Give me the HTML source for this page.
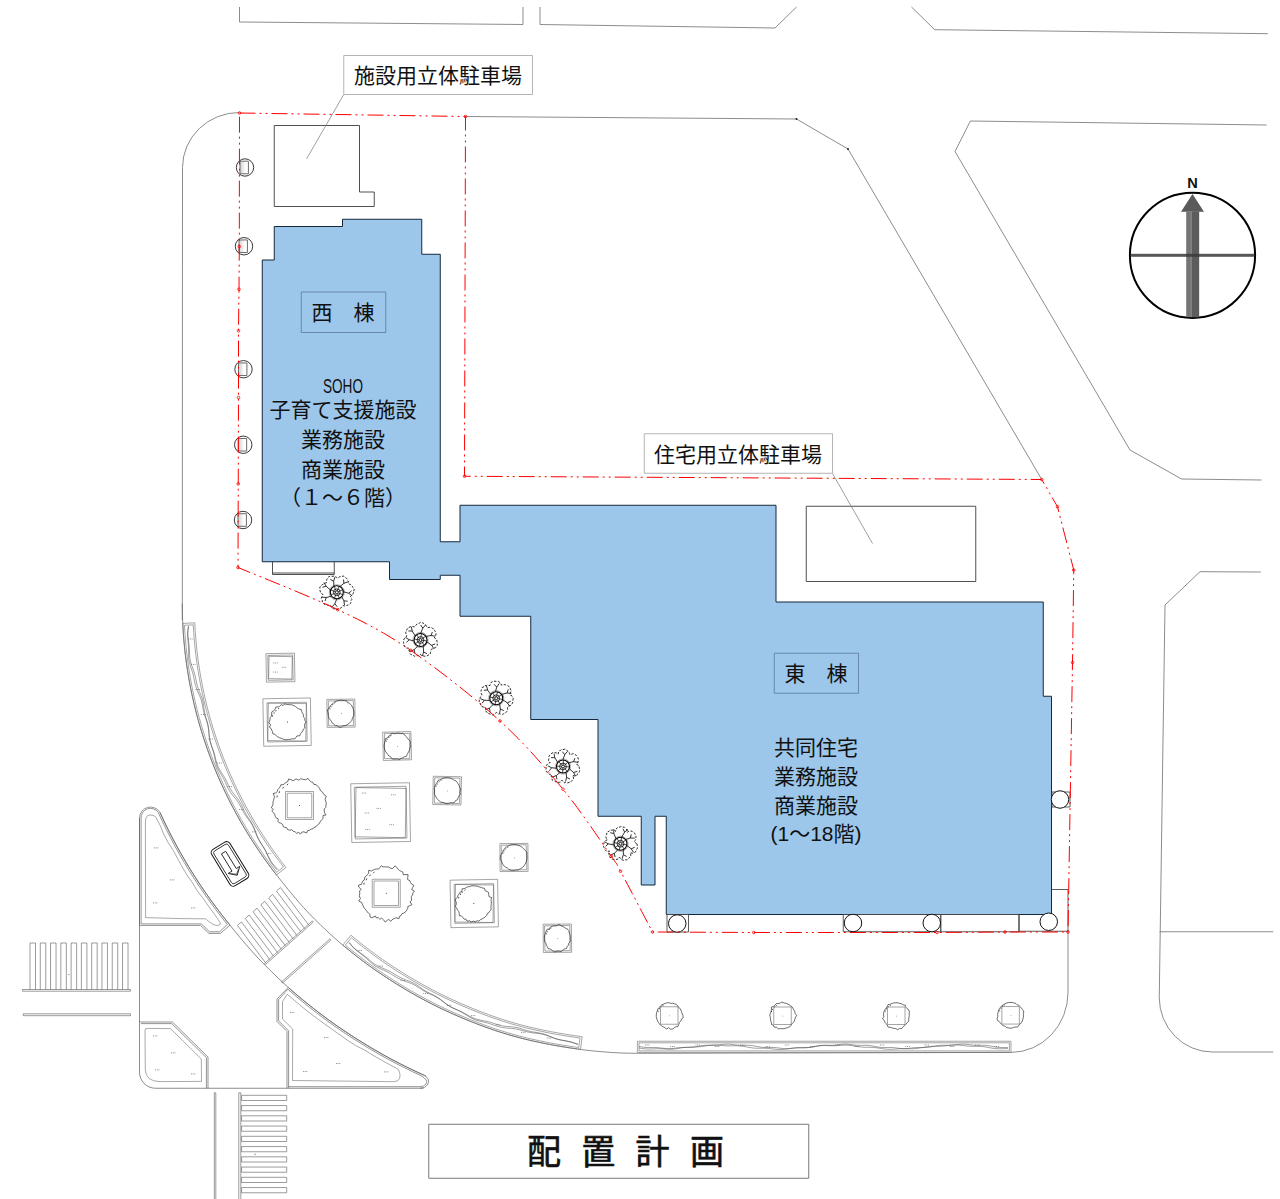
<!DOCTYPE html>
<html lang="ja"><head><meta charset="utf-8"><title>配置計画</title>
<style>
html,body{margin:0;padding:0;background:#fff}
svg{display:block}
path,circle{vector-effect:none}
.rd path,.rd2 path{fill:none;stroke:#6f6f6f;stroke-width:.8}
.bld{fill:#9cc6ea;stroke:#14293d;stroke-width:1;stroke-linejoin:miter}
.ln path{fill:none;stroke:#3c3c3c;stroke-width:.9}
.red{fill:none;stroke:#f00;stroke-width:1;stroke-dasharray:16 4 2 4 2 4}
.rdot circle{fill:none;stroke:#f00;stroke-width:.8}
.lnl{fill:url(#lg);stroke:#6a6a6a;stroke-width:1}
.sym,.sym path{fill:none;stroke:#4a4a4a;stroke-width:.9}
circle.sym{stroke:#222}
.col{fill:#fff;stroke:#111;stroke-width:1}
.lead path{fill:none;stroke:#777;stroke-width:.7}
.lbl{fill:#fff;stroke:#b4b4b4;stroke-width:1}
.sub{fill:none;stroke:#5d7a98;stroke-width:.8}
.ttl{fill:#fff;stroke:#7a7a7a;stroke-width:1}
.tr{fill:none;stroke:#1e1e1e;stroke-width:.65;stroke-linejoin:round}
.trk{fill:none;stroke:#222;stroke-width:.8}
.pl{fill:none;stroke:#6a6a6a;stroke-width:.6}
.pl2{fill:none;stroke:#444;stroke-width:.5}
.orn path,.orn circle{fill:none;stroke:#000;stroke-width:.75}
.orn .orng{stroke:#8c8c8c;stroke-width:.7}
.orn .ornb{stroke-width:.8}
.orn .ornr{stroke-width:1.1}
.orn .orns{stroke-width:.7}
.orn .ornd{stroke-dasharray:2.4 1.5;stroke-width:.85}
.isl path{fill:none;stroke:#666;stroke-width:.7}
.isl .pl2{stroke:#555;stroke-width:.5}
.cw path{fill:none;stroke:#666;stroke-width:.65}
.tx{font-family:"Liberation Sans","Noto Sans CJK JP",sans-serif;font-size:21px;fill:#111}
.txt{font-family:"Liberation Sans","Noto Sans CJK JP",sans-serif;font-size:34px;fill:#111;stroke:#111;stroke-width:.65;letter-spacing:20.3px}
</style></head>
<body>
<svg width="1280" height="1199" viewBox="0 0 1280 1199">
<defs><linearGradient id="lg" x1="0" x2="1" y1="0" y2="0"><stop offset="0" stop-color="#d2d2d2"/><stop offset="0.7" stop-color="#fff"/></linearGradient></defs>
<rect width="1280" height="1199" fill="#fff"/>
<g class="rd">
<path d="M239.5,7 L239.5,22 L523,24.5 L523,7"/>
<path d="M540,7 L540,24.5 L775,28 L796.5,7"/>
<path d="M911.5,7 L934.7,29.7 L1267.8,33.7"/>
<path d="M182.3,620 L182.5,167.5 A57,55 0 0 1 239.5,112.5"/>
<path d="M465.5,116.5 L796.5,119 L848,149 L1041.75,479.5"/>
<circle cx="796.5" cy="119" r="1" fill="#222"/><circle cx="848" cy="149" r="1" fill="#222"/>
<path d="M1266.6,125 L970.4,121 L955,151.5 L1130,450 L1181.5,479 L1261.5,480"/>
<path d="M1260.7,572 L1200,571.7 L1165,605 L1159.25,997.5 A53,54.5 0 0 0 1212.5,1052 L1273.25,1052"/>
<path d="M1159.6,931.75 L1273.25,931.75"/>
<path d="M182.3,603.3 L182.32,607.22 L182.37,611.15 L182.46,615.07 L182.58,618.99 L182.74,622.92 L182.94,626.84 L183.17,630.75 L183.43,634.67 L183.73,638.58 L184.07,642.49 L184.44,646.4 L184.84,650.31 L185.28,654.21 L185.76,658.1 L186.27,662 L186.82,665.89 L187.4,669.77 L188.01,673.65 L188.66,677.52 L189.35,681.39 L190.07,685.25 L190.82,689.11 L191.61,692.96 L192.44,696.8 L193.3,700.63 L194.19,704.46 L195.12,708.28 L196.08,712.09 L197.08,715.9 L198.11,719.69 L199.18,723.48 L200.27,727.25 L201.41,731.02 L202.57,734.78 L203.78,738.53 L205.01,742.26 L206.28,745.99 L207.58,749.71 L208.91,753.41 L210.28,757.11 L211.68,760.79 L213.12,764.46 L214.59,768.12 L216.09,771.76 L217.62,775.39 L219.19,779.01 L220.78,782.62 L222.41,786.21 L224.08,789.79 L225.77,793.35 L227.5,796.9 L229.26,800.44 L231.05,803.96 L232.87,807.46 L234.73,810.95 L236.61,814.42 L238.53,817.88 L240.48,821.32 L242.45,824.74 L244.46,828.15 L246.5,831.54 L248.57,834.91 L250.67,838.27 L252.81,841.6 L254.97,844.92 L257.16,848.22 L259.38,851.51 L261.63,854.77 L263.91,858.01 L266.21,861.24 L268.55,864.44 L270.92,867.63 L273.31,870.79 L275.73,873.94 L278.18,877.06 L280.66,880.16 L283.16,883.26 L285.65,886.35 L288.16,889.44 L290.68,892.51 L293.22,895.58 L295.78,898.63 L298.37,901.66 L300.99,904.66 L303.65,907.63 L306.35,910.57 L309.1,913.47 L311.89,916.32 L314.71,919.15 L317.55,921.96 L320.41,924.76 L323.28,927.53 L326.18,930.29 L329.1,933.03 L332.05,935.73 L335.03,938.41 L338.04,941.05 L341.08,943.65 L344.16,946.22 L347.25,948.77 L350.36,951.29 L353.5,953.8 L356.66,956.27 L359.83,958.72 L363.03,961.15 L366.26,963.55 L369.5,965.91 L372.77,968.25 L376.06,970.56 L379.37,972.83 L382.71,975.08 L386.06,977.3 L389.44,979.49 L392.83,981.66 L396.23,983.8 L399.66,985.92 L403.1,988.01 L406.56,990.07 L410.04,992.1 L413.54,994.1 L417.06,996.08 L420.59,998.02 L424.15,999.93 L427.72,1001.82 L431.3,1003.66 L434.91,1005.48 L438.53,1007.27 L442.17,1009.02 L445.83,1010.73 L449.51,1012.42 L453.19,1014.07 L456.9,1015.69 L460.61,1017.29 L464.34,1018.86 L468.08,1020.4 L471.83,1021.91 L475.6,1023.39 L479.38,1024.84 L483.18,1026.25 L486.98,1027.63 L490.8,1028.98 L494.64,1030.29 L498.49,1031.57 L502.35,1032.8 L506.22,1034 L510.11,1035.15 L514.01,1036.25 L517.92,1037.31 L521.85,1038.34 L525.78,1039.32 L529.73,1040.26 L533.68,1041.16 L537.64,1042.03 L541.61,1042.86 L545.59,1043.66 L549.57,1044.43 L553.56,1045.17 L557.55,1045.87 L561.55,1046.55 L565.55,1047.2 L569.56,1047.83 L573.57,1048.43 L577.58,1049.01 L581.6,1049.56 L585.62,1050.08 L589.64,1050.55 L593.68,1050.97 L597.72,1051.36 L601.76,1051.71 L605.8,1052.03 L609.84,1052.32 L613.89,1052.6 L617.93,1052.84 L621.98,1053.02 L626.04,1053.14 L630.09,1053.23 L634.14,1053.27 L638.2,1053.29 L642.25,1053.3 L646.3,1053.3 L1011,1052.4 A57,59.9 0 0 0 1068,992.5 L1068,932"/>
</g>
<path class="bld" d="M274.25,226.5 L342.5,226.5 L342.5,219.25 L421.75,219.25 L421.75,254.25 L440.25,254.25 L440.25,541.75 L460,541.75 L460,505.25 L776,505.25 L776,602 L1043.25,602 L1043.25,696.25 L1051.5,696.25 L1051.5,914.5 L666.25,914.5 L666.25,816.25 L655,816.25 L655,885 L641.25,885 L641.25,816.25 L598,816.25 L598,719.5 L530.75,719.5 L530.75,616.25 L460,616.25 L460,575.25 L440.25,575.25 L440.25,579.5 L389.5,579.5 L389.5,561.75 L262.25,561.75 L262.25,260 L274.25,260Z"/>
<g class="ln">
<path d="M272.5,561.75 L272.5,574.5 L334.25,574.5 L334.25,561.75"/>
<path d="M272.5,573 L334.25,573"/>
<path d="M274.25,125.5 L359.5,125.5 L359.5,192 L374.25,192 L374.25,206.5 L274.25,206.5Z"/>
<path d="M806.25,506.25 L975.75,506.25 L975.75,581.5 L806.25,581.5Z"/>
</g>
<path class="lnl" d="M240,161.2 L248.4,161.2 L248.4,173.8 L240,173.8Z"/>
<circle class="sym" cx="245" cy="167.5" r="8.7"/>
<path class="lnl" d="M239,239.95 L247.4,239.95 L247.4,252.55 L239,252.55Z"/>
<circle class="sym" cx="244" cy="246.25" r="8.7"/>
<path class="lnl" d="M238.5,362.95 L246.9,362.95 L246.9,375.55 L238.5,375.55Z"/>
<circle class="sym" cx="243.5" cy="369.25" r="8.7"/>
<path class="lnl" d="M238.25,438.45 L246.65,438.45 L246.65,451.05 L238.25,451.05Z"/>
<circle class="sym" cx="243.25" cy="444.75" r="8.7"/>
<path class="lnl" d="M238,513.7 L246.4,513.7 L246.4,526.3 L238,526.3Z"/>
<circle class="sym" cx="243" cy="520" r="8.7"/>
<g class="sym">
<path d="M667,914.5 L688.5,914.5 L688.5,932 L667,932Z"/>
<path d="M843.25,914.5 L940.75,914.5 L940.75,931.75 L843.25,931.75Z"/>
<path d="M940.75,914.5 L1018.75,914.5 L1018.75,931.75 L940.75,931.75Z"/>
<path d="M1019.25,914.5 L1019.25,931.5"/>
<path d="M1052,889.5 L1068,889.5 L1068,931.25 L1019.25,931.25"/>
<path d="M1052,792 L1070,792 L1070,807 L1052,807Z"/>
</g>
<circle class="col" cx="677.25" cy="923.5" r="8.75"/>
<circle class="col" cx="853" cy="923" r="8.75"/>
<circle class="col" cx="931.75" cy="923" r="8.75"/>
<circle class="col" cx="1048.75" cy="921.75" r="8.75"/>
<circle class="col" cx="1060" cy="799.5" r="8.75"/>
<g class="lead">
<path d="M343.75,94.5 L306.5,159"/>
<path d="M832.5,473.5 L872.5,543.5"/>
</g>
<path class="lbl" d="M343.75,55.5 L532.5,55.5 L532.5,94.5 L343.75,94.5Z"/>
<path class="lbl" d="M644.25,433.75 L832.5,433.75 L832.5,473.25 L644.25,473.25Z"/>
<path class="sub" d="M301.25,292 L385.75,292 L385.75,332.5 L301.25,332.5Z"/>
<path class="sub" d="M774.25,653.25 L858.5,653.25 L858.5,693.25 L774.25,693.25Z"/>
<path class="ttl" d="M428.75,1124.25 L808.75,1124.25 L808.75,1178.25 L428.75,1178.25Z"/>
<text class="tx" x="438" y="82.8" text-anchor="middle">施設用立体駐車場</text>
<text class="tx" x="738" y="461.6" text-anchor="middle">住宅用立体駐車場</text>
<text class="tx" x="343" y="319.5" text-anchor="middle">西　棟</text>
<text class="tx" x="816" y="680.5" text-anchor="middle">東　棟</text>
<text class="tx" x="323" y="392.7" textLength="40" lengthAdjust="spacingAndGlyphs">SOHO</text>
<text class="tx" x="343" y="417.2" text-anchor="middle">子育て支援施設</text>
<text class="tx" x="343" y="447" text-anchor="middle">業務施設</text>
<text class="tx" x="343" y="476.8" text-anchor="middle">商業施設</text>
<text class="tx" x="343" y="504.5" text-anchor="middle">（１～６階）</text>
<text class="tx" x="816" y="755.3" text-anchor="middle">共同住宅</text>
<text class="tx" x="816" y="784" text-anchor="middle">業務施設</text>
<text class="tx" x="816" y="813" text-anchor="middle">商業施設</text>
<text class="tx" x="816" y="841.3" text-anchor="middle">(1～18階)</text>
<text class="txt" x="527" y="1164.4">配置計画</text>
<circle cx="1192.5" cy="255.3" r="62.6" fill="none" stroke="#000" stroke-width="2"/>
<path d="M1192.5,194 L1204,211.8 L1181,211.8Z" fill="#5a5a5a"/>
<rect x="1186.2" y="211.5" width="12.9" height="105.6" fill="#757575"/>
<rect x="1191.6" y="211.5" width="7.5" height="105.6" fill="#5c5c5c"/>
<rect x="1190.8" y="211.5" width="0.7" height="105.6" fill="#9a9a9a"/>
<rect x="1130.5" y="253.8" width="124" height="3" fill="#3a3a3a" fill-opacity="0.85"/>
<text x="1192.6" y="187.8" text-anchor="middle" font-family="'Liberation Sans', sans-serif" font-weight="bold" font-size="14.6" fill="#111">N</text>
<path class="pl" d="M265.95,653.65 L294.45,653.15 L294.95,681.65 L266.45,682.15Z"/>
<path class="pl" d="M267.78,655.42 L292.68,654.98 L293.12,679.88 L268.22,680.32Z"/>
<path class="pl2" d="M269,656.25 L292.29,656.66 L291.9,679.05 L268.61,678.64Z"/>
<rect x="273.32" y="662.55" width="0.8" height="0.8" fill="#5a5a5a"/>
<rect x="275.07" y="662.55" width="0.8" height="0.8" fill="#5a5a5a"/>
<rect x="276.82" y="662.55" width="0.8" height="0.8" fill="#5a5a5a"/>
<rect x="281.88" y="666.83" width="0.8" height="0.8" fill="#5a5a5a"/>
<rect x="283.62" y="666.83" width="0.8" height="0.8" fill="#5a5a5a"/>
<rect x="285.38" y="666.83" width="0.8" height="0.8" fill="#5a5a5a"/>
<rect x="273.32" y="671.67" width="0.8" height="0.8" fill="#5a5a5a"/>
<rect x="275.07" y="671.67" width="0.8" height="0.8" fill="#5a5a5a"/>
<rect x="276.82" y="671.67" width="0.8" height="0.8" fill="#5a5a5a"/>
<path class="pl" d="M262.89,698.77 L310.38,697.94 L311.21,745.43 L263.72,746.26Z"/>
<path class="pl" d="M266.96,702.95 L306.46,702.26 L307.14,741.25 L267.64,741.94Z"/>
<path class="pl" d="M268.31,703.09 L306.31,703.62 L305.79,741.11 L267.79,740.58Z"/>
<path class="tr" d="M306.14,721.86 L304.88,723.55 L304.5,725.36 L304.88,727.73 L303.32,729.16 L302.81,730.84 L301.63,732.65 L300.5,733.63 L299.81,735.76 L296.92,735.95 L295.85,737.46 L294.9,738.88 L292.33,738.82 L290.58,739.23 L288.58,739.47 L286.87,739.73 L284.87,739.6 L283.48,739.26 L281.73,738.48 L279.58,737.8 L277.79,736.83 L276.49,735.79 L274.95,734.42 L272.87,733.88 L272.57,731.7 L271.8,730.29 L271.26,728.69 L269.33,727.24 L270.7,724.96 L268.8,722.7 L269.71,721.02 L270.1,718.94 L270.23,717.43 L271.46,716.04 L271.66,714.05 L271.8,711.88 L273.66,710.74 L275.19,709.26 L275.84,707.05 L278.19,706.88 L279.7,706.34 L281.26,704.67 L283.17,705.55 L284.61,703.78 L286.64,704.59 L289.07,704.61 L290.47,704.72 L292.26,704.89 L294.16,705.92 L295.63,706.54 L297.42,708.15 L299.15,709.08 L301.14,709.36 L301.8,711.75 L302.37,712.97 L303.6,714.87 L303.32,716.61 L304.79,718.61 L304.82,720.38Z"/>
<path class="trk" d="M272.52,716.56 L272.55,715.18M273.88,713.74 L274.18,712.39M275.65,711.38 L276.19,710.11M278.11,709.17 L278.91,708.04"/>
<rect x="287" y="721.6" width="0.9" height="0.9" fill="#222"/>
<path class="pl" d="M326.84,699.41 L354.84,699.09 L355.16,727.09 L327.16,727.41Z"/>
<path class="pl" d="M328.34,700.91 L353.34,700.59 L353.66,725.59 L328.66,725.91Z"/>
<path class="tr" d="M353.98,713.39 L353.94,715.44 L353.09,716.7 L352.43,718.23 L351.77,720.52 L350.66,721.77 L349.47,723.21 L347.82,724.21 L346.24,725.24 L344.32,725.79 L342.51,726.07 L341.3,727.2 L338.78,726.99 L337.01,725.58 L335.34,725.56 L333.68,724 L332.18,722.94 L331.35,721.3 L330.59,720.12 L329.34,718.77 L328.46,716.62 L328.15,715.04 L328,712.94 L327.4,711.28 L327.59,709.57 L329.02,708.05 L330.08,706.18 L331.28,704.78 L332.81,703.73 L334.13,702.19 L335.78,701.36 L337.42,700.75 L339.29,700.35 L340.98,700.2 L343.12,700.49 L344.73,700.7 L346.45,700.63 L347.56,702.47 L349.68,703.43 L350.69,704.52 L351.9,705.93 L352.71,707.67 L353.56,709.55 L353.83,711.15Z"/>
<path class="trk" d="M329.96,709.37 L329.85,708.3M330.95,707.26 L331.05,706.19M332.48,705.23 L332.81,704.2M334.61,703.45 L335.17,702.53"/>
<rect x="341" y="713.25" width="0.7" height="0.7" fill="#555"/>
<path class="pl" d="M382.65,732.23 L410.89,731.52 L411.6,759.77 L383.36,760.48Z"/>
<path class="pl" d="M384.54,733.34 L409.79,733.41 L409.71,758.66 L384.46,758.59Z"/>
<path class="tr" d="M410.82,745.95 L409.86,747.92 L409.61,750.05 L408.95,751.08 L407.86,753.15 L407.05,754.53 L406.41,756.43 L404.05,756.87 L402.81,757.67 L401.1,758.42 L398.87,759.83 L397.45,758.98 L395.38,759 L393.42,759.28 L391.65,758.47 L390.61,756.73 L388.76,755.88 L387.65,754.21 L386.69,753.12 L385.31,751.21 L384.76,749.65 L384.23,747.62 L384.13,745.75 L384.32,744.02 L384.69,742.09 L385.38,740.71 L385.29,738.74 L387.48,737.87 L388.78,735.98 L390.21,735.52 L391.38,733.51 L393.26,733.45 L395.4,733.75 L396.99,733.14 L398.89,733.12 L400.54,733.6 L402.66,733.44 L404.22,734.3 L405.49,736.04 L407.12,737.59 L408.17,739.23 L409.9,740.59 L410.52,742.19 L410.09,744.43Z"/>
<path class="trk" d="M386.22,741.76 L386.14,740.68M387.05,740.05 L387.15,738.98M388.72,737.86 L389.07,736.84M390.59,736.3 L391.14,735.37"/>
<rect x="397.12" y="746" width="0.7" height="0.7" fill="#555"/>
<path class="pl" d="M433.25,776.25 L461.5,776.75 L461,805 L432.75,804.5Z"/>
<path class="pl" d="M434.7,777.8 L459.95,778.2 L459.55,803.45 L434.3,803.05Z"/>
<path class="tr" d="M460.23,790.87 L459.9,792.6 L460.38,794.13 L459.08,795.76 L458.05,797.76 L457.64,799.73 L455.5,800.58 L454.52,802.37 L452.98,802.98 L450.47,802.6 L448.62,803.51 L447.14,803.7 L445.21,803.37 L443.86,802.62 L441.91,802.39 L440.35,801.77 L438.54,800.31 L437.3,799.12 L436.41,797.84 L435.28,795.65 L434.54,794.35 L434.34,792.5 L434.65,790.31 L434.1,789.02 L434.58,787.22 L435.49,785 L436.46,783.42 L437.07,782.4 L438.04,780.37 L440.06,779.88 L441.94,778.82 L443.74,777.96 L445.13,777.81 L447.49,777.67 L448.91,777.87 L450.49,778.13 L452.63,779.33 L453.91,780.08 L455.95,780.96 L457.1,782.11 L457.98,783.69 L459.08,785.35 L459.51,787.1 L460.79,789Z"/>
<path class="trk" d="M436.09,786.74 L435.98,785.67M437.12,784.57 L437.23,783.49M438.85,782.36 L439.21,781.34M440.91,780.71 L441.49,779.8"/>
<rect x="447.12" y="790.62" width="0.7" height="0.7" fill="#555"/>
<path class="tr" d="M325.97,805.32 L325.82,807.38 L324.46,808.77 L324.12,810.73 L324.75,813.12 L326.12,814.93 L322.99,815.64 L323.1,818.11 L322.11,819.55 L320.85,820.9 L319.8,822.32 L318.8,824.14 L317.35,825.01 L316.11,826.64 L313.99,827.44 L313.23,828.58 L311.04,829.11 L309.62,830.33 L307.42,830.73 L306.68,833.01 L304.01,831.86 L302.17,831.94 L300.46,834.19 L298.77,832.18 L296.71,833.51 L294.83,831.43 L293.36,831.44 L291.74,829.65 L289.88,830.27 L287.42,829.48 L286.72,827.67 L284.41,827.26 L283.34,826.77 L282.6,824.36 L280.78,823.15 L279.11,822.77 L277.99,821.41 L278.19,818.81 L276.23,818.03 L275.4,816.45 L274.58,814.22 L273.89,813.06 L271.75,811.04 L273.42,809.38 L271.3,807.83 L272.75,805.2 L273.1,803.29 L272.97,802.01 L273.49,800.33 L274.11,798.32 L274.47,796.78 L273.25,793.41 L275.73,793.11 L277.31,791.36 L277.75,789.72 L278.78,788.42 L279.98,787.14 L280.98,784.62 L282.97,784.86 L284.83,783.43 L286.02,782.48 L287.73,781.78 L288.59,778.98 L291.49,779.84 L293.02,780.89 L295.23,779.32 L296.54,779.07 L298.92,780.27 L300.61,778.75 L302.35,779.17 L303.97,779.55 L305.68,779.79 L307.97,778.32 L309.44,780.56 L311.37,781.99 L312.61,782.2 L313.72,784.35 L316.04,784.47 L317.33,786.08 L318.84,787.18 L319.67,788.45 L320.15,790.28 L322.11,791.7 L322.95,792.94 L323.81,794.46 L326.3,796.16 L325.39,798.33 L325.21,799.69 L325.86,801.56 L326.29,803.95Z"/>
<path class="trk" d="M276.97,797.39 L277.24,795.41M278.99,793.16 L279.63,791.26M282.6,788.54 L283.69,786.86M286.74,785.25 L288.16,783.85"/>
<path class="pl" d="M285.5,791.5 L313.5,791.5 L313.5,819.5 L285.5,819.5Z"/>
<path class="pl" d="M287.25,793.25 L311.75,793.25 L311.75,817.75 L287.25,817.75Z"/>
<rect x="299.1" y="805.1" width="0.9" height="0.9" fill="#333"/>
<path class="pl" d="M350.74,783.77 L409.48,782.74 L410.51,841.48 L351.77,842.51Z"/>
<path class="pl" d="M354.3,787.21 L406.04,786.3 L406.95,838.04 L355.21,838.95Z"/>
<path class="pl2" d="M355.98,787.57 L406.13,788.44 L405.27,837.68 L355.12,836.81Z"/>
<rect x="361.82" y="792.65" width="0.8" height="0.8" fill="#5a5a5a"/>
<rect x="363.57" y="792.65" width="0.8" height="0.8" fill="#5a5a5a"/>
<rect x="365.32" y="792.65" width="0.8" height="0.8" fill="#5a5a5a"/>
<rect x="391.2" y="794.41" width="0.8" height="0.8" fill="#5a5a5a"/>
<rect x="392.95" y="794.41" width="0.8" height="0.8" fill="#5a5a5a"/>
<rect x="394.7" y="794.41" width="0.8" height="0.8" fill="#5a5a5a"/>
<rect x="376.51" y="807.92" width="0.8" height="0.8" fill="#5a5a5a"/>
<rect x="378.26" y="807.92" width="0.8" height="0.8" fill="#5a5a5a"/>
<rect x="380.01" y="807.92" width="0.8" height="0.8" fill="#5a5a5a"/>
<rect x="364.76" y="812.62" width="0.8" height="0.8" fill="#5a5a5a"/>
<rect x="366.51" y="812.62" width="0.8" height="0.8" fill="#5a5a5a"/>
<rect x="368.26" y="812.62" width="0.8" height="0.8" fill="#5a5a5a"/>
<rect x="389.44" y="824.38" width="0.8" height="0.8" fill="#5a5a5a"/>
<rect x="391.19" y="824.38" width="0.8" height="0.8" fill="#5a5a5a"/>
<rect x="392.94" y="824.38" width="0.8" height="0.8" fill="#5a5a5a"/>
<rect x="365.35" y="829.08" width="0.8" height="0.8" fill="#5a5a5a"/>
<rect x="367.1" y="829.08" width="0.8" height="0.8" fill="#5a5a5a"/>
<rect x="368.85" y="829.08" width="0.8" height="0.8" fill="#5a5a5a"/>
<path class="tr" d="M412.92,892.96 L412.57,894.88 L411.4,896.57 L411.41,898.71 L411.66,900.4 L410.01,901.76 L411.8,904.67 L409.85,905.71 L407.86,906.41 L407.71,908.76 L406.44,910.63 L405.63,911.81 L403.65,913.12 L401.97,913.64 L400.99,915.64 L399.6,916.23 L398.97,918.71 L396.02,917.71 L394.38,918.58 L392.94,919.01 L390.85,921.27 L388.79,919.53 L387.47,920.13 L385.26,922.1 L383.54,919.79 L381.64,918.07 L379.96,919.32 L378.11,917.53 L376.38,917.87 L375.41,916.09 L371.74,917.75 L369.99,916.98 L370.08,914.41 L368.42,912.92 L367,911.75 L366.13,910.18 L364.82,908.71 L363.61,907.17 L363.1,905.83 L362.3,904.21 L361.54,902.29 L358.67,901.04 L360.47,898.52 L359.62,896.99 L359.42,895.4 L359.85,893.08 L359.45,891.01 L361.29,889.45 L358.69,887.04 L358.59,885.11 L361.41,884.39 L362.12,882.51 L362.78,880.97 L364.33,879.94 L364.72,877.2 L365.91,876.5 L367.2,874.82 L368.62,873.26 L368.68,870.26 L371.35,870.99 L372.77,870.26 L374.51,869.42 L376.17,868.94 L378.63,869.08 L380.14,867.25 L381.26,865.79 L383.22,866.87 L385.34,866.9 L386.97,866.96 L388.64,867.01 L390.56,868.24 L392.44,868.67 L395.15,865.78 L396.55,867.23 L398.08,869.23 L399.33,870.45 L401.16,871.34 L402.88,872.14 L403.21,874.65 L405.1,874.57 L408.1,874.64 L407.78,877.15 L407.62,879.6 L409.92,880.67 L410.33,882.26 L411.3,883.77 L413.96,885.48 L412.46,887.87 L411.68,889.64 L414.4,891.07Z"/>
<path class="trk" d="M363.9,884.67 L364.21,882.7M366.12,880.29 L366.83,878.42M369.43,876.21 L370.53,874.54M373.16,873.21 L374.56,871.79"/>
<path class="pl" d="M372.25,879.25 L400.25,879.25 L400.25,907.25 L372.25,907.25Z"/>
<path class="pl" d="M374,881 L398.5,881 L398.5,905.5 L374,905.5Z"/>
<rect x="385.85" y="892.85" width="0.9" height="0.9" fill="#333"/>
<path class="pl" d="M450.09,880.17 L497.58,879.34 L498.41,926.83 L450.92,927.66Z"/>
<path class="pl" d="M454.16,884.35 L493.66,883.66 L494.34,922.65 L454.84,923.34Z"/>
<path class="pl" d="M455.51,884.49 L493.51,885.02 L492.99,922.51 L454.99,921.98Z"/>
<path class="tr" d="M491.33,903.32 L491.14,905.58 L490.83,907.3 L491.22,909.59 L490.01,910.66 L488.94,912.67 L487.29,913.4 L486.66,915.55 L485.15,917.08 L483.73,917.97 L482.1,918.91 L480.73,919.49 L478.74,921.16 L477.29,920.68 L475.49,921.78 L473.13,921.16 L471.08,922.01 L469.65,920.74 L467.05,921.15 L465.84,919.06 L464.21,919.19 L462.65,917.22 L461.35,915.88 L459.48,915.75 L459.23,913.4 L458.83,911.65 L457.36,909.73 L456.56,907.83 L455.38,906.37 L456.23,904.48 L456.29,902.42 L455.19,900.22 L455.87,898.89 L457.6,896.98 L458.03,895.34 L459,894 L460.24,891.97 L461.89,891.54 L462.18,888.77 L464.11,888.69 L466.27,887.63 L467.66,886.83 L469.32,886.65 L471.17,885.94 L473.28,885.76 L474.96,885.93 L477.21,886.19 L478.69,886.74 L480.87,887.3 L482.11,887.9 L484.51,888.3 L485.18,890.86 L486.67,891.37 L488.43,892.25 L488.74,894.52 L488.95,896.47 L491.78,897.73 L491.06,899.45 L491.25,901.85Z"/>
<path class="trk" d="M458.75,898.4 L458.75,897.02M460.4,894.98 L460.72,893.64M462.06,892.81 L462.61,891.55M464.63,890.55 L465.43,889.43"/>
<rect x="473.35" y="903.1" width="0.9" height="0.9" fill="#222"/>
<path class="pl" d="M499.92,843.58 L527.92,843.42 L528.08,871.42 L500.08,871.58Z"/>
<path class="pl" d="M501.2,845.31 L526.19,844.7 L526.8,869.69 L501.81,870.3Z"/>
<path class="tr" d="M527.05,857.42 L526.86,859.35 L526.52,860.9 L525.73,863.05 L524.89,864.56 L524.04,865.93 L522.42,867.53 L520.91,868.5 L519.48,869.17 L517.74,870.01 L515.69,869.91 L514.03,870.48 L512.03,870.26 L510.24,869.91 L508.66,869.21 L507.26,867.93 L505.32,867.03 L504.09,866.01 L502.98,864.57 L502.06,862.94 L501.62,861.36 L500.12,859.28 L500.33,857.61 L500.39,855.62 L501.55,853.91 L502.62,852.49 L503.31,850.24 L504.38,848.87 L505.22,847.8 L507.05,846.5 L508.43,845.8 L510.41,844.91 L512.12,844.62 L513.72,844.54 L516.1,844.71 L517.46,845.06 L519.04,845.58 L520.87,846.47 L522.5,847.61 L523.83,848.85 L524.85,850.14 L526.76,851.92 L527.03,853.78 L526.84,855.99Z"/>
<path class="trk" d="M502.9,853.81 L502.77,852.74M503.93,851.55 L504.03,850.48M505.43,849.53 L505.76,848.5M507.65,847.68 L508.21,846.76"/>
<rect x="514" y="857.5" width="0.7" height="0.7" fill="#555"/>
<path class="pl" d="M543.14,924.24 L571.39,924.01 L571.61,952.26 L543.36,952.49Z"/>
<path class="pl" d="M544.52,925.86 L569.77,925.4 L570.23,950.64 L544.98,951.1Z"/>
<path class="tr" d="M570.28,938.55 L570.27,940.4 L569.89,942.06 L568.59,943.64 L568.28,945.29 L566.96,946.93 L566.55,948.52 L564.62,948.93 L562.79,950.08 L561.02,951.69 L559.26,951.16 L557.12,951.23 L555.05,951.89 L553.38,951.48 L551.87,949.98 L550.05,948.99 L548.05,948.53 L547.41,946.76 L546.49,945.37 L545.91,943.27 L544.83,941.99 L544.56,940.25 L544.37,938.25 L544.48,936.04 L544.92,934.72 L545.51,932.76 L546.17,931.46 L547.06,929.26 L549,929.12 L550.37,927.2 L552.24,926.27 L553.8,925.73 L555.73,925.91 L557.34,925.36 L559.1,924.46 L561.32,925.9 L563,926.51 L564.24,927.24 L565.81,928.31 L568.03,929.47 L568.88,930.42 L569.21,932.91 L569.77,934.24 L570.28,936.72Z"/>
<path class="trk" d="M546.36,934.32 L546.25,933.24M547.28,932.33 L547.38,931.25M549.04,930.04 L549.4,929.02M550.64,928.68 L551.17,927.75"/>
<rect x="557.38" y="938.25" width="0.7" height="0.7" fill="#555"/>
<path class="tr" d="M682.85,1015.22 L683.23,1017.71 L681.56,1018.88 L681,1020.61 L679.51,1022.49 L678.81,1024.35 L678.04,1026.35 L675.91,1026.72 L674.5,1027.37 L673.17,1028.91 L670.5,1029.22 L668.64,1027.62 L666.75,1029.08 L665.01,1027.75 L663.61,1027.05 L661.67,1025.9 L660.25,1024.96 L658.97,1023.17 L658.11,1022.14 L657.08,1019.89 L656.55,1017.96 L656.26,1016.6 L656.34,1014.65 L656.8,1012.42 L657.1,1011.25 L657.92,1009.06 L658.74,1007.83 L660.55,1006.08 L661.92,1004.8 L663.69,1004.02 L665.16,1003.38 L667.11,1002.87 L668.86,1002.62 L670.37,1003.38 L672.69,1003.22 L674.47,1003.8 L676.09,1004.41 L677.53,1005.57 L678.31,1007.08 L680.11,1008.5 L680.79,1010.01 L681.46,1011.47 L682.06,1013.31Z"/>
<path class="trk" d="M658.25,1011.79 L658.12,1010.73M659.45,1009.28 L659.58,1008.22M660.81,1007.53 L661.14,1006.51M662.77,1005.87 L663.32,1004.94"/>
<path class="pl" d="M660.5,1006.75 L678,1006.75 L678,1024.25 L660.5,1024.25Z"/>
<rect x="669.25" y="1015.5" width="0.7" height="0.7" fill="#666"/>
<path class="tr" d="M796.67,1015.35 L795.24,1017.9 L794.88,1019.29 L794.13,1021.58 L792.67,1022.88 L791.88,1023.87 L791.09,1025.54 L789.32,1026.87 L787.83,1027.46 L786.02,1028.07 L783.88,1028.74 L781.9,1028.62 L780.38,1028.65 L778.27,1028.83 L776.64,1027.4 L774.1,1027.02 L773.31,1025.05 L771.62,1024.61 L771.15,1021.74 L770.56,1020.25 L770.43,1018.57 L770.18,1016.67 L769.79,1015.09 L770.41,1012.9 L771.3,1011.14 L771.5,1009.26 L771.29,1007.15 L773.75,1006.3 L774.9,1005.34 L776.32,1003.5 L778.01,1003.64 L779.91,1003.2 L781.93,1002.01 L784.15,1003.07 L785.79,1003.13 L787.22,1003.91 L789.42,1004.98 L790.68,1005.89 L792.08,1006.86 L793.34,1009.02 L793.97,1010.2 L795.06,1012.15 L795.15,1013.52Z"/>
<path class="trk" d="M771.49,1012.05 L771.36,1010.99M772.45,1009.94 L772.53,1008.87M774.34,1007.49 L774.7,1006.49M776.03,1006.11 L776.57,1005.19"/>
<path class="pl" d="M773.75,1007 L791.25,1007 L791.25,1024.5 L773.75,1024.5Z"/>
<rect x="782.5" y="1015.75" width="0.7" height="0.7" fill="#666"/>
<path class="tr" d="M909.29,1015.51 L908.92,1017.4 L908.74,1019.25 L908.71,1021.32 L906.9,1022.89 L906.06,1024.24 L904.25,1025.73 L903.23,1026.56 L901.58,1028.77 L899.67,1028.32 L897.8,1029.79 L895.8,1028.56 L894.15,1028.43 L892.32,1028.07 L890.69,1027.37 L888.09,1027.14 L887.17,1024.83 L885.87,1023.56 L885.03,1022.43 L884.19,1020.37 L882.42,1018.8 L883.9,1016.85 L883.54,1015.01 L883.7,1013.26 L884.05,1011.47 L885.13,1009.49 L886.34,1007.75 L887.09,1006.66 L888.06,1004.61 L890.05,1004.29 L891.8,1003.55 L893.63,1002.96 L895.69,1002.74 L897.7,1002.78 L899.69,1003.41 L901.24,1003.67 L903.22,1004.77 L905.35,1005.25 L906.02,1007.46 L906.94,1008.61 L908.8,1009.89 L909.35,1011.81 L909.21,1014.2Z"/>
<path class="trk" d="M885.38,1011.68 L885.29,1010.61M886.54,1009.39 L886.68,1008.32M888.12,1007.46 L888.49,1006.46M890.02,1005.95 L890.59,1005.05"/>
<path class="pl" d="M887.5,1007 L905,1007 L905,1024.5 L887.5,1024.5Z"/>
<rect x="896.25" y="1015.75" width="0.7" height="0.7" fill="#666"/>
<path class="tr" d="M1023.41,1014.95 L1023.36,1017.31 L1022.77,1019.29 L1022.42,1020.86 L1021.49,1022.31 L1020.52,1023.8 L1018.84,1025.21 L1017.7,1026.98 L1015.89,1027.03 L1013.89,1027.26 L1011.98,1028.16 L1010.08,1028.09 L1008.1,1027.97 L1006.38,1027.42 L1005.16,1026.28 L1003.26,1025.7 L1001.79,1024.6 L1000.42,1023.1 L999.09,1021.33 L997.53,1020.6 L997.12,1018.35 L997.87,1016.28 L997.64,1014.56 L998,1012.76 L998.49,1010.52 L999.4,1008.73 L1000.51,1007.28 L1001.7,1005.76 L1002.97,1005.11 L1004.88,1003.74 L1006.78,1003.01 L1008.46,1002.54 L1010.04,1002.43 L1012.17,1002.53 L1013.89,1002.89 L1015.84,1003.51 L1016.99,1004.75 L1018.66,1005.19 L1019.95,1006.5 L1021.63,1008.31 L1022.31,1009.56 L1023.81,1010.91 L1023.46,1013.41Z"/>
<path class="trk" d="M999.7,1011.3 L999.6,1010.23M1000.97,1008.81 L1001.13,1007.75M1002.26,1007.22 L1002.6,1006.21M1004.12,1005.67 L1004.66,1004.74"/>
<path class="pl" d="M1001.85,1006.55 L1019.35,1006.55 L1019.35,1024.05 L1001.85,1024.05Z"/>
<rect x="1010.6" y="1015.3" width="0.7" height="0.7" fill="#666"/>
<g class="orn">
<circle class="orng" cx="336.8" cy="592.3" r="7.6"/>
<circle class="ornr" cx="336.8" cy="592.3" r="6.5"/>
<circle cx="336.8" cy="592.3" r="3.4"/>
<circle cx="336.8" cy="592.3" r="1.4"/>
<path class="orns" d="M336.24,591.02 L334.21,586.34M337.31,591 L339.19,586.25M338.08,591.74 L342.76,589.71M338.1,592.81 L342.85,594.69M337.36,593.58 L339.39,598.26M336.29,593.6 L334.41,598.35M335.52,592.86 L330.84,594.89M335.5,591.79 L330.75,589.91"/>
<path class="ornb" d="M333.93,586.14 L333.67,581.23M333.67,581.23 L330.33,579.43M333.67,581.23 L334.83,577.09M340.13,586.37 L343.95,583.3M343.95,583.3 L343.46,579.53M343.95,583.3 L347.99,581.83M343.58,591.78 L348.71,593.29M348.71,593.29 L351.57,590.79M348.71,593.29 L352.17,595.83M341.92,596.78 L343.91,600.88M343.91,600.88 L347.69,601.18M343.91,600.88 L344.51,605.13M336.74,599.1 L334.85,603.7M334.85,603.7 L337.09,606.76M334.85,603.7 L332.02,606.93M331.26,596.24 L326.22,597.53M326.22,597.53 L325.05,601.14M326.22,597.53 L321.94,597.14M330.42,589.94 L326.05,586.21M326.05,586.21 L322.41,587.28M326.05,586.21 L323.97,582.45"/>
<path class="ornd" d="M353.65,592.3 L353.11,593.52 L352.45,594.66 L351.41,595.63 L350.4,596.5 L351.38,598.02 L351.79,599.52 L351.12,600.57 L350.82,601.86 L350.65,603.34 L349.69,604.26 L348.47,604.88 L347.1,605.21 L346.24,606.15 L344.74,606.06 L343.23,605.66 L342.21,606.09 L341.51,607.57 L340.42,608.18 L339.26,608.64 L338.07,609.19 L336.8,609.59 L335.51,609.54 L334.29,608.98 L333.11,608.46 L331.93,608.09 L331.03,607.01 L330.55,605.28 L329.39,605.13 L327.92,605.32 L326.86,604.76 L325.41,604.58 L324.05,604.13 L323.43,602.96 L322.38,602.13 L322.33,600.65 L321.76,599.54 L321.24,598.41 L321.71,596.95 L322.48,595.57 L322.86,594.4 L321.21,593.47 L320.4,592.3 L320.23,591.06 L319.73,589.73 L319.93,588.45 L319.85,587.07 L320.77,586.01 L321.68,585.02 L322.89,584.27 L324.07,583.62 L325.25,583.09 L326.52,582.76 L326.41,581.1 L326.79,579.74 L327.31,578.38 L328.09,577.21 L329.26,576.64 L330.38,575.95 L331.86,576.29 L333.14,576.28 L334.32,575.83 L335.64,576.79 L336.8,577.57 L337.86,578.1 L339.09,577.14 L340.39,576.56 L341.65,576.56 L343.19,576.01 L344.33,576.67 L345.37,577.45 L346.44,578.17 L347.25,579.19 L347.69,580.57 L348.58,581.37 L348.23,583.19 L349.02,583.97 L350.29,584.51 L351.63,585.16 L352.26,586.23 L352.78,587.37 L354.02,588.37 L354.21,589.68 L353.74,591.03Z"/>
</g>
<g class="orn">
<circle class="orng" cx="420.5" cy="640" r="7.6"/>
<circle class="ornr" cx="420.5" cy="640" r="6.5"/>
<circle cx="420.5" cy="640" r="3.4"/>
<circle cx="420.5" cy="640" r="1.4"/>
<path class="orns" d="M421.62,639.17 L425.72,636.13M421.88,640.21 L426.93,640.95M421.33,641.12 L424.37,645.22M420.29,641.38 L419.55,646.43M419.38,640.83 L415.28,643.87M419.12,639.79 L414.07,639.05M419.67,638.88 L416.63,634.78M420.71,638.62 L421.45,633.57"/>
<path class="ornb" d="M426.25,636.37 L431.01,635.52M431.01,635.52 L432.38,631.98M431.01,635.52 L435.27,636.16M427.03,641.9 L431.65,645.3M431.65,645.3 L435.21,643.98M431.65,645.3 L433.99,648.91M423.24,646.22 L423.61,651.93M423.61,651.93 L426.92,653.81M423.61,651.93 L422.36,656.05M417.71,646.2 L414.15,649.64M414.15,649.64 L414.98,653.35M414.15,649.64 L410.26,651.47M413.76,640.93 L409.19,639.74M409.19,639.74 L406.48,642.41M409.19,639.74 L405.58,637.41M415.14,635.82 L412.18,631.04M412.18,631.04 L408.38,630.96M412.18,631.04 L411.33,626.83M420.71,633.2 L422.8,628.11M422.8,628.11 L420.63,624.99M422.8,628.11 L425.7,624.94"/>
<path class="ornd" d="M436.66,640 L437.02,641.24 L437.33,642.54 L437.08,643.78 L437.42,645.22 L436.28,646.19 L435.72,647.33 L434.38,648.01 L433.46,648.84 L431.7,648.93 L431.06,649.8 L430.9,651.21 L430.51,652.55 L430.16,654.17 L429.01,654.73 L427.9,655.37 L426.71,655.83 L425.49,656.19 L424.2,656.19 L422.88,655.77 L421.68,655.76 L420.5,654.28 L419.44,654.14 L418.13,655.7 L416.93,655.62 L415.59,655.91 L414.13,656.24 L413.15,655.27 L411.88,654.92 L410.68,654.41 L409.83,653.38 L409.57,651.78 L409.12,650.56 L409.06,649.12 L408.62,648.1 L406.56,648.05 L405.97,647 L404.43,646.31 L404.11,645.05 L403.89,643.79 L403.45,642.57 L403.74,641.26 L403.47,640 L404.39,638.79 L404.66,637.61 L406.36,636.77 L406.77,635.76 L406.11,634.35 L405.64,632.85 L406.13,631.7 L406.06,630.15 L407.25,629.44 L407.82,628.24 L408.82,627.41 L410.13,626.99 L411.14,626.27 L412.72,626.53 L414.18,626.87 L415.18,626.46 L415.93,625.17 L416.87,624.12 L418.04,623.7 L419.24,623.19 L420.5,622.4 L421.78,622.93 L423.08,622.91 L424.17,623.92 L425.34,624.3 L426.17,625.54 L426.76,627 L427.65,627.61 L429.12,627.36 L430.61,627.32 L431.8,627.82 L432.82,628.57 L434.17,629.1 L434.62,630.38 L435.27,631.47 L436.01,632.53 L435.97,633.93 L435.79,635.28 L434.88,636.72 L434.5,637.89 L435.94,638.84Z"/>
</g>
<g class="orn">
<circle class="orng" cx="496.25" cy="698.25" r="7.6"/>
<circle class="ornr" cx="496.25" cy="698.25" r="6.5"/>
<circle cx="496.25" cy="698.25" r="3.4"/>
<circle cx="496.25" cy="698.25" r="1.4"/>
<path class="orns" d="M497.63,698.51 L502.64,699.45M497.04,699.41 L499.92,703.62M495.99,699.63 L495.05,704.64M495.09,699.04 L490.88,701.92M494.87,697.99 L489.86,697.05M495.46,697.09 L492.58,692.88M496.51,696.87 L497.45,691.86M497.41,697.46 L501.62,694.58"/>
<path class="ornb" d="M502.87,699.79 L507.29,702.77M507.29,702.77 L510.77,701.25M507.29,702.77 L509.83,706.24M499.65,704.14 L500.36,709.07M500.36,709.07 L503.85,710.58M500.36,709.07 L499.56,713.3M493.3,704.38 L489.4,708.08M489.4,708.08 L490.13,711.81M489.4,708.08 L485.47,709.8M489.8,700.41 L484.23,700.23M484.23,700.23 L482.06,703.35M484.23,700.23 L480.24,698.61M490.63,694.42 L487.63,690.07M487.63,690.07 L483.83,690.23M487.63,690.07 L486.52,685.92M495.47,691.49 L496.75,687.1M496.75,687.1 L494.15,684.33M496.75,687.1 L499.16,683.54M501.81,694.34 L507.07,692.99M507.07,692.99 L508.25,689.38M507.07,692.99 L511.35,693.4"/>
<path class="ornd" d="M513.29,698.25 L512.93,699.5 L512.93,700.76 L512.8,702.03 L512.37,703.22 L511.77,704.34 L510.91,705.31 L509.46,705.88 L508.05,706.3 L507.65,707.34 L507.53,708.71 L507.6,710.48 L506.79,711.47 L506.02,712.57 L504.78,713.03 L503.72,713.77 L502.57,714.36 L501.18,714.22 L499.8,713.78 L498.63,714.04 L497.35,712.91 L496.25,712.52 L495.11,713.47 L493.76,714.76 L492.48,714.77 L491.32,714.24 L490.02,714.12 L488.9,713.51 L487.55,713.32 L486.91,711.96 L485.8,711.35 L485.44,709.9 L485.93,707.83 L484.81,707.38 L483.38,707.03 L481.87,706.55 L480.8,705.69 L480.48,704.44 L480.09,703.24 L479.01,702.19 L479.37,700.79 L479.06,699.54 L479.7,698.25 L480.41,697.06 L481.66,696.05 L482.04,695.01 L481.31,693.64 L481.37,692.41 L480.91,690.86 L481.46,689.71 L481.96,688.51 L482.44,687.23 L483.93,686.82 L484.63,685.73 L486.29,685.76 L487.32,685.15 L488.88,685.49 L490.07,685.42 L490.51,683.62 L491.3,682.19 L492.47,681.7 L493.69,681.26 L494.98,681.24 L496.25,681.36 L497.52,681.28 L498.75,681.67 L499.84,682.54 L500.82,683.44 L501.41,685.1 L502.6,685.05 L504.16,684.54 L505.35,684.91 L506.61,685.26 L507.92,685.67 L508.88,686.53 L510.07,687.23 L510.3,688.67 L510.68,689.92 L511.32,690.99 L510.54,692.64 L510.12,693.97 L510.2,695.07 L512.03,695.87 L512.63,697.02Z"/>
</g>
<g class="orn">
<circle class="orng" cx="563" cy="766.5" r="7.6"/>
<circle class="ornr" cx="563" cy="766.5" r="6.5"/>
<circle cx="563" cy="766.5" r="3.4"/>
<circle cx="563" cy="766.5" r="1.4"/>
<path class="orns" d="M563.09,765.1 L563.41,760.01M564.05,765.58 L567.88,762.21M564.4,766.59 L569.49,766.91M563.92,767.55 L567.29,771.38M562.91,767.9 L562.59,772.99M561.95,767.42 L558.12,770.79M561.6,766.41 L556.51,766.09M562.08,765.45 L558.71,761.62"/>
<path class="ornb" d="M562.89,759.7 L564.72,754.69M564.72,754.69 L562.4,751.68M564.72,754.69 L567.47,751.39M568.67,762.74 L573.61,761.69M573.61,761.69 L574.89,758.11M573.61,761.69 L577.87,762.22M569.38,768.84 L573.6,772.46M573.6,772.46 L577.25,771.38M573.6,772.46 L575.7,776.21M566.13,772.54 L566.56,777.33M566.56,777.33 L569.98,779M566.56,777.33 L565.57,781.52M559.87,772.53 L556.27,775.56M556.27,775.56 L556.88,779.31M556.27,775.56 L552.28,777.16M556.44,768.29 L551.67,767.71M551.67,767.71 L549.33,770.7M551.67,767.71 L547.79,765.86M557.65,762.31 L554.86,757.71M554.86,757.71 L551.06,757.61M554.86,757.71 L554.02,753.49"/>
<path class="ornd" d="M579.11,766.5 L579.31,767.72 L579.71,769.02 L579.79,770.33 L579.41,771.56 L578.74,772.68 L577.95,773.7 L576.97,774.57 L576.56,775.75 L574.91,776 L572.64,775.45 L573.55,777.87 L573.34,779.47 L572.44,780.35 L571.35,780.96 L570.48,782.03 L569.3,782.55 L567.99,782.68 L566.79,783.09 L565.4,782.45 L564.22,782.8 L563,781.64 L561.98,780.11 L560.66,782.03 L559.37,782.38 L558.14,782.24 L556.85,782.16 L555.66,781.75 L554.56,781.11 L553.17,780.92 L552.23,780.01 L551.85,778.52 L551.5,777.17 L551.17,775.94 L551.56,774.3 L549.4,774.35 L548.71,773.38 L547.22,772.69 L546.42,771.61 L545.97,770.39 L546.05,769.05 L546.12,767.76 L545.73,766.5 L546.63,765.27 L547.33,764.14 L548.32,763.15 L550.18,762.55 L548.46,760.79 L548.66,759.59 L548.9,758.36 L548.86,756.86 L549.43,755.67 L550.11,754.54 L551.17,753.75 L552.19,752.94 L553.44,752.47 L555.02,752.67 L556.49,752.98 L558.17,754.19 L558.54,752.03 L559.39,750.68 L560.57,750.36 L561.71,749.33 L563,749.56 L564.29,749.3 L565.63,749.06 L566.7,750.31 L567.76,751.06 L568.81,751.69 L569.39,753.23 L569.87,754.61 L571.38,754.21 L573.26,753.63 L574.58,754.02 L575.69,754.73 L576.43,755.79 L577.13,756.87 L578.03,757.82 L578.31,759.13 L578.36,760.47 L578.12,761.84 L577.58,763.17 L576.53,764.46 L578.57,765.33Z"/>
</g>
<g class="orn">
<circle class="orng" cx="620.5" cy="843.75" r="7.6"/>
<circle class="ornr" cx="620.5" cy="843.75" r="6.5"/>
<circle cx="620.5" cy="843.75" r="3.4"/>
<circle cx="620.5" cy="843.75" r="1.4"/>
<path class="orns" d="M621.65,842.95 L625.84,840.05M621.88,844 L626.9,844.91M621.3,844.9 L624.2,849.09M620.25,845.13 L619.34,850.15M619.35,844.55 L615.16,847.45M619.12,843.5 L614.1,842.59M619.7,842.6 L616.8,838.41M620.75,842.37 L621.66,837.35"/>
<path class="ornb" d="M625.76,839.44 L630.37,838.01M630.37,838.01 L631.29,834.33M630.37,838.01 L634.67,838.11M627.04,845.62 L631.18,848.75M631.18,848.75 L634.73,847.4M631.18,848.75 L633.54,852.34M623.26,849.96 L623.38,854.65M623.38,854.65 L626.69,856.51M623.38,854.65 L622.14,858.77M617.75,849.97 L614.26,853.35M614.26,853.35 L615.1,857.06M614.26,853.35 L610.38,855.2M613.79,844.88 L608.14,843.83M608.14,843.83 L605.51,846.58M608.14,843.83 L604.46,841.61M615.95,838.69 L613.89,833.48M613.89,833.48 L610.16,832.74M613.89,833.48 L613.79,829.19M621.72,837.06 L624.63,832.11M624.63,832.11 L622.95,828.71M624.63,832.11 L627.97,829.41"/>
<path class="ornd" d="M636.73,843.75 L637.41,845.02 L636.96,846.23 L637.46,847.62 L637.12,848.88 L636.36,849.97 L635.86,851.15 L635.23,852.25 L633.71,852.76 L632.38,853.23 L630.13,852.69 L630.79,854.84 L630.77,856.63 L629.66,857.18 L628.88,858.26 L628.05,859.43 L626.8,859.81 L625.46,859.85 L624.31,860.45 L622.96,860.05 L621.7,859.78 L620.5,858.74 L619.5,857.06 L618.22,858.9 L616.93,859.38 L615.69,859.36 L614.38,859.34 L612.87,859.6 L611.83,858.77 L611,857.69 L609.7,857.29 L609.36,855.76 L609.04,854.39 L608.7,853.16 L609.68,851.13 L607.29,851.38 L605.93,850.77 L605.2,849.75 L604.16,848.79 L604.03,847.51 L603.38,846.33 L603.25,845.04 L603.89,843.75 L604.03,842.52 L605.06,841.42 L605.86,840.41 L607.46,839.73 L606.25,838.16 L605.8,836.67 L605.86,835.29 L606.71,834.35 L606.67,832.72 L607.67,831.85 L609.03,831.39 L609.72,830.24 L611.2,830.12 L612.65,830.15 L613.78,829.8 L615.61,831.3 L615.93,828.92 L616.98,828.35 L617.98,827.01 L619.26,827.16 L620.5,826.75 L621.78,826.61 L623,827.16 L624.3,827.1 L625.32,828.14 L626.28,829.02 L627.12,830.01 L627.13,832.27 L629.3,830.85 L630.62,831.06 L632.07,831.28 L633.03,832.12 L634.27,832.77 L635.07,833.82 L635.15,835.29 L636.01,836.28 L635.82,837.74 L636.02,838.96 L635.35,840.36 L633.96,841.72 L635.39,842.63Z"/>
</g>
<path class="pl" d="M182.76,623.39 L183.2,631.36 L183.79,639.33 L184.52,647.28 L185.4,655.23 L186.43,663.15 L187.6,671.06 L188.91,678.94 L190.37,686.8 L191.97,694.64 L193.72,702.44 L195.61,710.22 L197.64,717.96 L199.81,725.66 L202.12,733.33 L204.57,740.96 L207.17,748.54 L209.9,756.07 L212.76,763.56 L215.77,771 L218.91,778.38 L222.19,785.71 L225.6,792.98 L229.14,800.19 L232.81,807.34 L236.62,814.43 L240.55,821.45 L244.61,828.4 L248.8,835.28 L253.11,842.08 L257.55,848.81 L262.11,855.47 L266.79,862.04 L271.59,868.53 L276.51,874.94 L285.97,867.55 L281.18,861.31 L276.51,854.99 L271.95,848.59 L267.51,842.12 L263.19,835.57 L258.99,828.94 L254.92,822.25 L250.97,815.49 L247.14,808.66 L243.44,801.76 L239.86,794.81 L236.41,787.79 L233.1,780.72 L229.91,773.59 L226.85,766.4 L223.93,759.17 L221.14,751.88 L218.48,744.55 L215.96,737.18 L213.58,729.76 L211.33,722.3 L209.21,714.81 L207.24,707.28 L205.4,699.72 L203.71,692.13 L202.15,684.51 L200.73,676.86 L199.45,669.19 L198.31,661.5 L197.32,653.8 L196.46,646.07 L195.75,638.34 L195.18,630.59 L194.75,622.83Z"/>
<path class="pl" d="M184.46,625.27 L184.92,633.09 L185.53,640.92 L186.28,648.72 L187.17,656.52 L188.2,664.3 L189.38,672.06 L190.69,679.8 L192.14,687.51 L193.73,695.2 L195.46,702.87 L197.33,710.5 L199.33,718.1 L201.47,725.66 L203.75,733.18 L206.16,740.67 L208.71,748.11 L211.4,755.51 L214.21,762.87 L217.16,770.17 L220.24,777.43 L223.45,784.62 L226.79,791.77 L230.26,798.86 L233.85,805.88 L237.57,812.85 L241.42,819.75 L245.39,826.58 L249.49,833.35 L253.7,840.04 L258.04,846.67 L262.49,853.21 L267.07,859.69 L271.76,866.08 L276.56,872.39 L283.52,867 L278.81,860.81 L274.21,854.54 L269.73,848.2 L265.36,841.78 L261.11,835.29 L256.98,828.72 L252.96,822.09 L249.07,815.39 L245.3,808.63 L241.65,801.8 L238.13,794.92 L234.73,787.97 L231.45,780.97 L228.31,773.91 L225.29,766.81 L222.4,759.65 L219.64,752.44 L217.01,745.19 L214.52,737.9 L212.15,730.56 L209.92,723.19 L207.82,715.77 L205.85,708.33 L204.03,700.85 L202.33,693.34 L200.77,685.81 L199.35,678.25 L198.07,670.67 L196.92,663.06 L195.91,655.44 L195.03,647.8 L194.3,640.15 L193.7,632.49 L193.24,624.82Z"/>
<path class="pl2" d="M188.51,626.22 L187.87,630.18 L187.58,634.13 L187.73,638.05 L188.14,641.95 L188.5,645.86 L188.61,649.8 L188.56,653.75 L188.65,657.71 L189.17,661.61 L190.19,665.43 L191.49,669.21 L192.72,672.99 L193.67,676.8 L194.42,680.65 L195.23,684.48 L196.38,688.24 L197.89,691.92 L199.55,695.56 L201,699.23 L202.04,702.98 L202.76,706.82 L203.44,710.67 L204.36,714.46 L205.56,718.17 L206.85,721.86 L207.9,725.61 L208.57,729.49 L208.94,733.46 L209.35,737.45 L210.06,741.34 L211.16,745.12 L212.45,748.83 L213.63,752.59 L214.55,756.44 L215.32,760.36 L216.24,764.24 L217.58,767.96 L219.38,771.49 L221.42,774.91 L223.41,778.35 L225.15,781.89 L226.75,785.49 L228.47,789.04 L230.55,792.42 L232.98,795.61 L235.56,798.71 L237.96,801.89 L240.02,805.24 L241.81,808.73 L243.61,812.21 L245.65,815.57 L247.94,818.78 L250.27,821.96 L252.37,825.27 L254.09,828.8 L255.56,832.52 L257.04,836.23 L258.78,839.79 L260.82,843.17 L262.98,846.48 L264.99,849.88 L266.74,853.48 L268.36,857.19 L270.11,860.82 L272.23,864.19 L274.72,867.29 L277.41,870.24"/>
<path class="pl2" d="M188.62,626.22 L188.03,630.17 L187.81,634.11 L188.08,638.02 L188.62,641.91 L189.12,645.8 L189.39,649.71 L189.51,653.64 L189.76,657.56 L190.44,661.43 L191.6,665.23 L193,668.98 L194.32,672.73 L195.33,676.51 L196.09,680.34 L196.89,684.16 L197.99,687.92 L199.42,691.6 L200.96,695.25 L202.28,698.93 L203.18,702.71 L203.74,706.58 L204.25,710.46 L205,714.28 L206.06,718.03 L207.21,721.76 L208.15,725.54 L208.73,729.44 L209.06,733.43 L209.44,737.42 L210.17,741.31 L211.32,745.07 L212.68,748.75 L213.96,752.46 L215,756.27 L215.92,760.13 L216.99,763.94 L218.48,767.59 L220.43,771.05 L222.61,774.4 L224.71,777.77 L226.56,781.25 L228.23,784.81 L229.99,788.32 L232.08,791.67 L234.49,794.86 L237.02,797.97 L239.34,801.18 L241.29,804.57 L242.96,808.1 L244.62,811.65 L246.51,815.08 L248.65,818.37 L250.84,821.62 L252.8,825.01 L254.4,828.61 L255.77,832.38 L257.18,836.14 L258.88,839.73 L260.91,843.12 L263.07,846.41 L265.13,849.79 L266.95,853.33 L268.66,856.97 L270.52,860.52 L272.75,863.8 L275.38,866.8 L278.19,869.63"/>
<rect x="188.25" y="638.56" width="0.8" height="0.8" fill="#5a5a5a"/>
<rect x="190" y="638.56" width="0.8" height="0.8" fill="#5a5a5a"/>
<rect x="191.75" y="638.56" width="0.8" height="0.8" fill="#5a5a5a"/>
<rect x="191.1" y="663.95" width="0.8" height="0.8" fill="#5a5a5a"/>
<rect x="192.85" y="663.95" width="0.8" height="0.8" fill="#5a5a5a"/>
<rect x="194.6" y="663.95" width="0.8" height="0.8" fill="#5a5a5a"/>
<rect x="195.45" y="689.14" width="0.8" height="0.8" fill="#5a5a5a"/>
<rect x="197.2" y="689.14" width="0.8" height="0.8" fill="#5a5a5a"/>
<rect x="198.95" y="689.14" width="0.8" height="0.8" fill="#5a5a5a"/>
<rect x="201.3" y="714.05" width="0.8" height="0.8" fill="#5a5a5a"/>
<rect x="203.05" y="714.05" width="0.8" height="0.8" fill="#5a5a5a"/>
<rect x="204.8" y="714.05" width="0.8" height="0.8" fill="#5a5a5a"/>
<rect x="208.61" y="738.59" width="0.8" height="0.8" fill="#5a5a5a"/>
<rect x="210.36" y="738.59" width="0.8" height="0.8" fill="#5a5a5a"/>
<rect x="212.11" y="738.59" width="0.8" height="0.8" fill="#5a5a5a"/>
<rect x="217.37" y="762.68" width="0.8" height="0.8" fill="#5a5a5a"/>
<rect x="219.12" y="762.68" width="0.8" height="0.8" fill="#5a5a5a"/>
<rect x="220.87" y="762.68" width="0.8" height="0.8" fill="#5a5a5a"/>
<rect x="227.55" y="786.25" width="0.8" height="0.8" fill="#5a5a5a"/>
<rect x="229.3" y="786.25" width="0.8" height="0.8" fill="#5a5a5a"/>
<rect x="231.05" y="786.25" width="0.8" height="0.8" fill="#5a5a5a"/>
<rect x="239.1" y="809.21" width="0.8" height="0.8" fill="#5a5a5a"/>
<rect x="240.85" y="809.21" width="0.8" height="0.8" fill="#5a5a5a"/>
<rect x="242.6" y="809.21" width="0.8" height="0.8" fill="#5a5a5a"/>
<rect x="252.01" y="831.49" width="0.8" height="0.8" fill="#5a5a5a"/>
<rect x="253.76" y="831.49" width="0.8" height="0.8" fill="#5a5a5a"/>
<rect x="255.51" y="831.49" width="0.8" height="0.8" fill="#5a5a5a"/>
<rect x="266.22" y="853.01" width="0.8" height="0.8" fill="#5a5a5a"/>
<rect x="267.97" y="853.01" width="0.8" height="0.8" fill="#5a5a5a"/>
<rect x="269.72" y="853.01" width="0.8" height="0.8" fill="#5a5a5a"/>
<path class="pl" d="M342.8,945.09 L349.11,950.28 L355.49,955.37 L361.97,960.35 L368.54,965.22 L375.21,969.96 L381.97,974.58 L388.81,979.09 L395.72,983.48 L402.71,987.77 L409.77,991.94 L416.91,996 L424.13,999.92 L431.42,1003.72 L438.78,1007.39 L446.21,1010.91 L453.71,1014.3 L461.27,1017.57 L468.88,1020.72 L476.54,1023.75 L484.26,1026.65 L492.03,1029.41 L499.86,1032.01 L507.75,1034.45 L515.69,1036.71 L523.68,1038.8 L531.71,1040.72 L539.78,1042.48 L547.88,1044.11 L556,1045.6 L564.14,1046.98 L572.3,1048.24 L580.47,1049.41 L582.23,1036.73 L574.27,1035.59 L566.33,1034.36 L558.41,1033.03 L550.5,1031.58 L542.62,1030 L534.77,1028.29 L526.95,1026.42 L519.18,1024.4 L511.45,1022.2 L503.78,1019.82 L496.16,1017.29 L488.59,1014.61 L481.08,1011.79 L473.62,1008.84 L466.22,1005.77 L458.87,1002.58 L451.57,999.29 L444.34,995.86 L437.18,992.29 L430.09,988.6 L423.07,984.78 L416.13,980.83 L409.26,976.77 L402.46,972.6 L395.73,968.32 L389.08,963.94 L382.51,959.45 L376.03,954.84 L369.64,950.1 L363.34,945.25 L357.13,940.31 L351,935.26Z"/>
<path class="pl" d="M345.36,945.14 L351.57,950.21 L357.85,955.18 L364.23,960.05 L370.69,964.8 L377.25,969.43 L383.9,973.95 L390.62,978.35 L397.41,982.65 L404.28,986.85 L411.22,990.93 L418.23,994.9 L425.32,998.74 L432.47,1002.46 L439.7,1006.05 L447,1009.51 L454.36,1012.83 L461.77,1016.04 L469.24,1019.14 L476.76,1022.12 L484.33,1024.97 L491.95,1027.69 L499.63,1030.26 L507.36,1032.67 L515.15,1034.91 L522.99,1036.97 L530.86,1038.88 L538.78,1040.64 L546.72,1042.26 L554.68,1043.74 L562.67,1045.11 L570.67,1046.38 L578.69,1047.55 L580.05,1038.04 L572.19,1036.9 L564.35,1035.66 L556.52,1034.32 L548.72,1032.87 L540.94,1031.28 L533.18,1029.57 L525.46,1027.7 L517.79,1025.68 L510.16,1023.49 L502.58,1021.12 L495.06,1018.6 L487.59,1015.94 L480.17,1013.15 L472.8,1010.23 L465.49,1007.19 L458.22,1004.05 L451.01,1000.79 L443.87,997.41 L436.79,993.89 L429.78,990.24 L422.84,986.48 L415.97,982.59 L409.18,978.59 L402.45,974.48 L395.8,970.27 L389.21,965.95 L382.7,961.53 L376.28,957 L369.95,952.34 L363.71,947.57 L357.55,942.7 L351.48,937.74Z"/>
<path class="pl2" d="M349.08,942.51 L351.62,945.71 L354.39,948.66 L357.44,951.26 L360.65,953.67 L363.82,956.12 L366.85,958.77 L369.8,961.55 L372.83,964.22 L376.12,966.54 L379.7,968.44 L383.43,970.1 L387.11,971.82 L390.63,973.76 L394.04,975.89 L397.48,977.96 L401.09,979.74 L404.89,981.2 L408.76,982.53 L412.51,984.03 L416.04,985.89 L419.42,988.04 L422.78,990.23 L426.26,992.21 L429.88,993.93 L433.53,995.57 L437.08,997.42 L440.45,999.64 L443.7,1002.14 L446.98,1004.62 L450.41,1006.8 L454,1008.63 L457.68,1010.28 L461.32,1012.04 L464.85,1014.06 L468.33,1016.24 L471.87,1018.28 L475.59,1019.92 L479.48,1021.09 L483.46,1022 L487.42,1022.98 L491.28,1024.19 L495.09,1025.55 L498.95,1026.78 L502.93,1027.63 L507.02,1028.08 L511.15,1028.37 L515.22,1028.82 L519.18,1029.62 L523.05,1030.71 L526.93,1031.78 L530.88,1032.58 L534.9,1033.1 L538.92,1033.56 L542.88,1034.28 L546.74,1035.43 L550.54,1036.89 L554.36,1038.34 L558.24,1039.5 L562.2,1040.32 L566.17,1041.02 L570.12,1041.9 L574.02,1043.11 L577.91,1044.5"/>
<path class="pl2" d="M349.15,942.42 L351.72,945.59 L354.54,948.47 L357.65,950.99 L360.94,953.29 L364.2,955.61 L367.32,958.13 L370.36,960.77 L373.48,963.31 L376.85,965.49 L380.5,967.27 L384.28,968.83 L388.01,970.46 L391.55,972.35 L394.95,974.45 L398.37,976.52 L401.94,978.34 L405.69,979.86 L409.49,981.28 L413.16,982.89 L416.62,984.87 L419.9,987.16 L423.18,989.5 L426.57,991.62 L430.11,993.47 L433.7,995.24 L437.2,997.19 L440.53,999.48 L443.75,1002.03 L447.02,1004.53 L450.45,1006.7 L454.07,1008.48 L457.78,1010.05 L461.46,1011.71 L465.04,1013.61 L468.57,1015.65 L472.17,1017.54 L475.94,1019.01 L479.88,1020.02 L483.91,1020.79 L487.9,1021.63 L491.79,1022.73 L495.61,1024 L499.47,1025.18 L503.44,1026.01 L507.52,1026.47 L511.62,1026.8 L515.65,1027.33 L519.56,1028.24 L523.39,1029.45 L527.23,1030.66 L531.12,1031.63 L535.09,1032.3 L539.07,1032.92 L542.99,1033.79 L546.82,1035.07 L550.6,1036.64 L554.39,1038.17 L558.27,1039.38 L562.22,1040.22 L566.19,1040.91 L570.15,1041.73 L574.06,1042.86 L577.96,1044.14"/>
<rect x="357.69" y="950.13" width="0.8" height="0.8" fill="#5a5a5a"/>
<rect x="359.44" y="950.13" width="0.8" height="0.8" fill="#5a5a5a"/>
<rect x="361.19" y="950.13" width="0.8" height="0.8" fill="#5a5a5a"/>
<rect x="378.72" y="965.65" width="0.8" height="0.8" fill="#5a5a5a"/>
<rect x="380.47" y="965.65" width="0.8" height="0.8" fill="#5a5a5a"/>
<rect x="382.22" y="965.65" width="0.8" height="0.8" fill="#5a5a5a"/>
<rect x="400.66" y="979.95" width="0.8" height="0.8" fill="#5a5a5a"/>
<rect x="402.41" y="979.95" width="0.8" height="0.8" fill="#5a5a5a"/>
<rect x="404.16" y="979.95" width="0.8" height="0.8" fill="#5a5a5a"/>
<rect x="423.38" y="993.07" width="0.8" height="0.8" fill="#5a5a5a"/>
<rect x="425.13" y="993.07" width="0.8" height="0.8" fill="#5a5a5a"/>
<rect x="426.88" y="993.07" width="0.8" height="0.8" fill="#5a5a5a"/>
<rect x="446.87" y="1004.86" width="0.8" height="0.8" fill="#5a5a5a"/>
<rect x="448.62" y="1004.86" width="0.8" height="0.8" fill="#5a5a5a"/>
<rect x="450.37" y="1004.86" width="0.8" height="0.8" fill="#5a5a5a"/>
<rect x="471.04" y="1015.3" width="0.8" height="0.8" fill="#5a5a5a"/>
<rect x="472.79" y="1015.3" width="0.8" height="0.8" fill="#5a5a5a"/>
<rect x="474.54" y="1015.3" width="0.8" height="0.8" fill="#5a5a5a"/>
<rect x="495.77" y="1024.42" width="0.8" height="0.8" fill="#5a5a5a"/>
<rect x="497.52" y="1024.42" width="0.8" height="0.8" fill="#5a5a5a"/>
<rect x="499.27" y="1024.42" width="0.8" height="0.8" fill="#5a5a5a"/>
<rect x="521.08" y="1031.92" width="0.8" height="0.8" fill="#5a5a5a"/>
<rect x="522.83" y="1031.92" width="0.8" height="0.8" fill="#5a5a5a"/>
<rect x="524.58" y="1031.92" width="0.8" height="0.8" fill="#5a5a5a"/>
<rect x="546.85" y="1037.68" width="0.8" height="0.8" fill="#5a5a5a"/>
<rect x="548.6" y="1037.68" width="0.8" height="0.8" fill="#5a5a5a"/>
<rect x="550.35" y="1037.68" width="0.8" height="0.8" fill="#5a5a5a"/>
<path class="pl" d="M637.4,1041.25 L1011,1041.25 L1011,1052.4 L637.4,1052.4Z"/>
<path class="pl" d="M639,1042.8 L1009.4,1042.8 L1009.4,1050.9 L639,1050.9Z"/>
<path class="pl2" d="M639,1046.4 L642,1046.99 L645,1047.4 L648,1047.55 L651,1047.51 L654,1047.46 L657,1047.56 L660,1047.86 L663,1048.27 L666,1048.6 L669,1048.69 L672,1048.5 L675,1048.12 L678,1047.73 L681,1047.5 L684,1047.47 L687,1047.54 L690,1047.52 L693,1047.28 L696,1046.79 L699,1046.17 L702,1045.63 L705,1045.32 L708,1045.25 L711,1045.32 L714,1045.33 L717,1045.15 L720,1044.8 L723,1044.39 L726,1044.13 L729,1044.15 L732,1044.43 L735,1044.84 L738,1045.18 L741,1045.33 L744,1045.31 L747,1045.25 L750,1045.34 L753,1045.68 L756,1046.23 L759,1046.84 L762,1047.31 L765,1047.53 L768,1047.53 L771,1047.46 L774,1047.51 L777,1047.76 L780,1048.16 L783,1048.53 L786,1048.7 L789,1048.58 L792,1048.23 L795,1047.82 L798,1047.54 L801,1047.46 L804,1047.52 L807,1047.54 L810,1047.37 L813,1046.94 L816,1046.34 L819,1045.76 L822,1045.38 L825,1045.25 L828,1045.3 L831,1045.34 L834,1045.22 L837,1044.91 L840,1044.49 L843,1044.18 L846,1044.11 L849,1044.33 L852,1044.72 L855,1045.1 L858,1045.31 L861,1045.33 L864,1045.26 L867,1045.29 L870,1045.56 L873,1046.07 L876,1046.68 L879,1047.21 L882,1047.5 L885,1047.54 L888,1047.48 L891,1047.48 L894,1047.67 L897,1048.04 L900,1048.44 L903,1048.68 L906,1048.64 L909,1048.34 L912,1047.93 L915,1047.6 L918,1047.46 L921,1047.5 L924,1047.55 L927,1047.44 L930,1047.08 L933,1046.51 L936,1045.9 L939,1045.46 L942,1045.26 L945,1045.28 L948,1045.34 L951,1045.27 L954,1045.01 L957,1044.6 L960,1044.24 L963,1044.1 L966,1044.25 L969,1044.61 L972,1045.01 L975,1045.28 L978,1045.34 L981,1045.27 L984,1045.26 L987,1045.46 L990,1045.91 L993,1046.52 L996,1047.09 L999,1047.45 L1002,1047.55 L1005,1047.5 L1008,1047.46"/>
<path class="pl2" d="M639,1047.94 L642,1048.47 L645,1048.85 L648,1049.01 L651,1048.97 L654,1048.83 L657,1048.71 L660,1048.7 L663,1048.84 L666,1049.04 L669,1049.19 L672,1049.17 L675,1048.93 L678,1048.49 L681,1047.97 L684,1047.48 L687,1047.15 L690,1046.99 L693,1046.95 L696,1046.91 L699,1046.76 L702,1046.44 L705,1045.99 L708,1045.51 L711,1045.15 L714,1045 L717,1045.08 L720,1045.32 L723,1045.6 L726,1045.8 L729,1045.86 L732,1045.8 L735,1045.73 L738,1045.76 L741,1046 L744,1046.43 L747,1046.99 L750,1047.55 L753,1047.97 L756,1048.19 L759,1048.25 L762,1048.22 L765,1048.25 L768,1048.41 L771,1048.71 L774,1049.07 L777,1049.37 L780,1049.49 L783,1049.38 L786,1049.06 L789,1048.65 L792,1048.28 L795,1048.05 L798,1047.96 L801,1047.95 L804,1047.91 L807,1047.72 L810,1047.34 L813,1046.82 L816,1046.26 L819,1045.8 L822,1045.54 L825,1045.5 L828,1045.59 L831,1045.71 L834,1045.74 L837,1045.62 L840,1045.4 L843,1045.19 L846,1045.12 L849,1045.26 L852,1045.61 L855,1046.11 L858,1046.61 L861,1046.99 L864,1047.2 L867,1047.27 L870,1047.3 L873,1047.41 L876,1047.69 L879,1048.12 L882,1048.61 L885,1049.05 L888,1049.3 L891,1049.33 L894,1049.16 L897,1048.9 L900,1048.69 L903,1048.61 L906,1048.66 L909,1048.76 L912,1048.8 L915,1048.65 L918,1048.3 L921,1047.77 L924,1047.2 L927,1046.72 L930,1046.43 L933,1046.31 L936,1046.31 L939,1046.3 L942,1046.17 L945,1045.89 L948,1045.51 L951,1045.15 L954,1044.93 L957,1044.93 L960,1045.16 L963,1045.53 L966,1045.91 L969,1046.17 L972,1046.29 L975,1046.3 L978,1046.3 L981,1046.42 L984,1046.74 L987,1047.22 L990,1047.79 L993,1048.31 L996,1048.66 L999,1048.79 L1002,1048.75 L1005,1048.65 L1008,1048.61"/>
<rect x="645" y="1044.6" width="0.8" height="0.8" fill="#5a5a5a"/>
<rect x="646.75" y="1044.6" width="0.8" height="0.8" fill="#5a5a5a"/>
<rect x="648.5" y="1044.6" width="0.8" height="0.8" fill="#5a5a5a"/>
<rect x="670.3" y="1046" width="0.8" height="0.8" fill="#5a5a5a"/>
<rect x="672.05" y="1046" width="0.8" height="0.8" fill="#5a5a5a"/>
<rect x="673.8" y="1046" width="0.8" height="0.8" fill="#5a5a5a"/>
<rect x="695.6" y="1044.6" width="0.8" height="0.8" fill="#5a5a5a"/>
<rect x="697.35" y="1044.6" width="0.8" height="0.8" fill="#5a5a5a"/>
<rect x="699.1" y="1044.6" width="0.8" height="0.8" fill="#5a5a5a"/>
<rect x="714.9" y="1046" width="0.8" height="0.8" fill="#5a5a5a"/>
<rect x="716.65" y="1046" width="0.8" height="0.8" fill="#5a5a5a"/>
<rect x="718.4" y="1046" width="0.8" height="0.8" fill="#5a5a5a"/>
<rect x="740.2" y="1044.6" width="0.8" height="0.8" fill="#5a5a5a"/>
<rect x="741.95" y="1044.6" width="0.8" height="0.8" fill="#5a5a5a"/>
<rect x="743.7" y="1044.6" width="0.8" height="0.8" fill="#5a5a5a"/>
<rect x="765.5" y="1046" width="0.8" height="0.8" fill="#5a5a5a"/>
<rect x="767.25" y="1046" width="0.8" height="0.8" fill="#5a5a5a"/>
<rect x="769" y="1046" width="0.8" height="0.8" fill="#5a5a5a"/>
<rect x="784.8" y="1044.6" width="0.8" height="0.8" fill="#5a5a5a"/>
<rect x="786.55" y="1044.6" width="0.8" height="0.8" fill="#5a5a5a"/>
<rect x="788.3" y="1044.6" width="0.8" height="0.8" fill="#5a5a5a"/>
<rect x="810.1" y="1046" width="0.8" height="0.8" fill="#5a5a5a"/>
<rect x="811.85" y="1046" width="0.8" height="0.8" fill="#5a5a5a"/>
<rect x="813.6" y="1046" width="0.8" height="0.8" fill="#5a5a5a"/>
<rect x="835.4" y="1044.6" width="0.8" height="0.8" fill="#5a5a5a"/>
<rect x="837.15" y="1044.6" width="0.8" height="0.8" fill="#5a5a5a"/>
<rect x="838.9" y="1044.6" width="0.8" height="0.8" fill="#5a5a5a"/>
<rect x="854.7" y="1046" width="0.8" height="0.8" fill="#5a5a5a"/>
<rect x="856.45" y="1046" width="0.8" height="0.8" fill="#5a5a5a"/>
<rect x="858.2" y="1046" width="0.8" height="0.8" fill="#5a5a5a"/>
<rect x="880" y="1044.6" width="0.8" height="0.8" fill="#5a5a5a"/>
<rect x="881.75" y="1044.6" width="0.8" height="0.8" fill="#5a5a5a"/>
<rect x="883.5" y="1044.6" width="0.8" height="0.8" fill="#5a5a5a"/>
<rect x="905.3" y="1046" width="0.8" height="0.8" fill="#5a5a5a"/>
<rect x="907.05" y="1046" width="0.8" height="0.8" fill="#5a5a5a"/>
<rect x="908.8" y="1046" width="0.8" height="0.8" fill="#5a5a5a"/>
<rect x="924.6" y="1044.6" width="0.8" height="0.8" fill="#5a5a5a"/>
<rect x="926.35" y="1044.6" width="0.8" height="0.8" fill="#5a5a5a"/>
<rect x="928.1" y="1044.6" width="0.8" height="0.8" fill="#5a5a5a"/>
<rect x="949.9" y="1046" width="0.8" height="0.8" fill="#5a5a5a"/>
<rect x="951.65" y="1046" width="0.8" height="0.8" fill="#5a5a5a"/>
<rect x="953.4" y="1046" width="0.8" height="0.8" fill="#5a5a5a"/>
<rect x="975.2" y="1044.6" width="0.8" height="0.8" fill="#5a5a5a"/>
<rect x="976.95" y="1044.6" width="0.8" height="0.8" fill="#5a5a5a"/>
<rect x="978.7" y="1044.6" width="0.8" height="0.8" fill="#5a5a5a"/>
<rect x="994.5" y="1046" width="0.8" height="0.8" fill="#5a5a5a"/>
<rect x="996.25" y="1046" width="0.8" height="0.8" fill="#5a5a5a"/>
<rect x="998" y="1046" width="0.8" height="0.8" fill="#5a5a5a"/>
<g class="rd2">
<path d="M159.99,812.48 L163.9,820.88 L167.96,829.21 L172.17,837.47 L176.53,845.65 L181.04,853.75 L185.7,861.78 L190.5,869.72 L195.44,877.57 L200.53,885.34 L205.76,893.01 L211.13,900.6 L216.63,908.09 L222.27,915.48 L228.05,922.77 L233.9,930 L239.8,937.2 L245.8,944.33 L251.94,951.35 L258.24,958.23 L264.75,964.92 L271.38,971.5 L278.1,977.99 L284.92,984.38 L291.88,990.62 L298.99,996.71 L306.22,1002.66 L313.54,1008.5 L320.96,1014.21 L328.48,1019.8 L336.12,1025.24 L343.86,1030.54 L351.69,1035.7 L359.6,1040.74 L367.6,1045.66 L375.68,1050.43 L383.85,1055.07 L392.1,1059.57 L400.44,1063.92 L408.86,1068.12 L417.35,1072.15 L425.93,1076.03"/>
<path d="M139.5,818 L139.5,1072 A16,16 0 0 0 155.5,1088.25 L423.5,1088.25"/>
</g>
<g class="isl">
<path d="M139.5,925.4 L139.5,818 A11,11 0 0 1 159.99,812.48 L163.99,821.09 L168.16,829.61 L172.48,838.06 L176.96,846.44 L181.59,854.73 L186.38,862.93 L191.32,871.05 L196.42,879.08 L201.66,887.01 L207.04,894.85 L212.58,902.59 L218.25,910.23 L224.07,917.77 L230.02,925.21 L220.3,933.4 L208.9,933.4 L200.6,925.4 Z"/>
<path d="M141.1,923.9 L141.1,818.5 A9.4,9.4 0 0 1 158.16,812.32 L162.11,820.86 L166.23,829.34 L170.5,837.74 L174.93,846.06 L179.51,854.3 L184.24,862.46 L189.12,870.53 L194.15,878.52 L199.33,886.41 L204.65,894.22 L210.11,901.92 L215.72,909.53 L221.46,917.04 L227.34,924.44 L219.6,931.8 L209.6,931.8 L201.3,923.9 Z"/>
<path class="pl2" d="M145.6,917.6 L145.4,822 Q145.5,815 150,815 Q153.5,815 155.54,816.69 L160.12,825.32 L163.53,833.78 L167.96,842.23 L173.13,850.25 L177.93,859.08 L182.17,866.9 L187.34,875.63 L192.62,883.05 L197.41,891.02 L203.56,898.96 L208.93,906.83 L214.78,914.59 L220.17,922.61 Q221.5,925 217.5,925.6 Q213,925.5 205.5,918.8 L180,918.6 Z"/>
<rect x="154" y="847.5" width="0.8" height="0.8" fill="#5a5a5a"/>
<rect x="155.75" y="847.5" width="0.8" height="0.8" fill="#5a5a5a"/>
<rect x="157.5" y="847.5" width="0.8" height="0.8" fill="#5a5a5a"/>
<rect x="170" y="879.5" width="0.8" height="0.8" fill="#5a5a5a"/>
<rect x="171.75" y="879.5" width="0.8" height="0.8" fill="#5a5a5a"/>
<rect x="173.5" y="879.5" width="0.8" height="0.8" fill="#5a5a5a"/>
<rect x="153" y="902.5" width="0.8" height="0.8" fill="#5a5a5a"/>
<rect x="154.75" y="902.5" width="0.8" height="0.8" fill="#5a5a5a"/>
<rect x="156.5" y="902.5" width="0.8" height="0.8" fill="#5a5a5a"/>
<rect x="191" y="907.5" width="0.8" height="0.8" fill="#5a5a5a"/>
<rect x="192.75" y="907.5" width="0.8" height="0.8" fill="#5a5a5a"/>
<rect x="194.5" y="907.5" width="0.8" height="0.8" fill="#5a5a5a"/>
<path d="M139.5,1022 L172.5,1022 L208,1057 L208,1088.25"/>
<path d="M141,1023.6 L171.8,1023.6 L206.4,1057.7 L206.4,1088.25"/>
<path class="pl2" d="M145.3,1070 L145,1030 Q145,1028.3 147,1028.4 L170.5,1028.6 L201.3,1059 L201.5,1081.4 L160,1081.6 Q146,1081.5 145.3,1070Z"/>
<rect x="153" y="1035.5" width="0.8" height="0.8" fill="#5a5a5a"/>
<rect x="154.75" y="1035.5" width="0.8" height="0.8" fill="#5a5a5a"/>
<rect x="156.5" y="1035.5" width="0.8" height="0.8" fill="#5a5a5a"/>
<rect x="171" y="1052.5" width="0.8" height="0.8" fill="#5a5a5a"/>
<rect x="172.75" y="1052.5" width="0.8" height="0.8" fill="#5a5a5a"/>
<rect x="174.5" y="1052.5" width="0.8" height="0.8" fill="#5a5a5a"/>
<rect x="155" y="1069.5" width="0.8" height="0.8" fill="#5a5a5a"/>
<rect x="156.75" y="1069.5" width="0.8" height="0.8" fill="#5a5a5a"/>
<rect x="158.5" y="1069.5" width="0.8" height="0.8" fill="#5a5a5a"/>
<rect x="191" y="1073.5" width="0.8" height="0.8" fill="#5a5a5a"/>
<rect x="192.75" y="1073.5" width="0.8" height="0.8" fill="#5a5a5a"/>
<rect x="194.5" y="1073.5" width="0.8" height="0.8" fill="#5a5a5a"/>
<path d="M287,1088.25 L287,1031.5 L277,1021.5 L277,999 L288.25,987.4 L295.42,993.68 L302.73,999.81 L310.14,1005.81 L317.65,1011.69 L325.28,1017.44 L333.01,1023.05 L340.85,1028.51 L348.8,1033.82 L356.83,1039 L364.95,1044.05 L373.16,1048.97 L381.46,1053.74 L389.85,1058.36 L398.32,1062.83 L406.88,1067.15 L415.52,1071.3 L424.24,1075.28 Q431,1079.5 427.5,1085 Q425.2,1088.2 420,1088.25"/>
<path d="M288.6,1088.25 L288.6,1030.8 L278.6,1020.8 L278.6,999.7 L287.88,989.21 L294.91,995.36 L302.09,1001.35 L309.36,1007.24 L316.73,1013 L324.2,1018.64 L331.78,1024.14 L339.46,1029.49 L347.24,1034.71 L355.11,1039.8 L363.06,1044.77 L371.1,1049.6 L379.22,1054.3 L387.42,1058.86 L395.71,1063.28 L404.07,1067.54 L412.52,1071.65 L421.05,1075.6 Q429,1080.5 426,1084 Q424,1086.6 420,1086.7 L288.6,1086.7"/>
<path class="pl2" d="M292.5,1080.5 L292.7,1029 L282.5,1019 L282.5,1001.5 L287.29,994.31 L294.79,1000.79 L301.46,1006.35 L309.07,1012.48 L317.31,1018.61 L324.25,1023.78 L332.76,1029.81 L340.3,1035.06 L348.1,1040.68 L356.41,1045.87 L364.8,1050.18 L372.82,1055.2 L381.69,1060.28 L389.38,1064.5 L398.2,1069.21 Q402,1076.5 398,1080.6 Q395.5,1082 386,1081.6 Z"/>
<rect x="290" y="1012" width="0.8" height="0.8" fill="#5a5a5a"/>
<rect x="291.75" y="1012" width="0.8" height="0.8" fill="#5a5a5a"/>
<rect x="293.5" y="1012" width="0.8" height="0.8" fill="#5a5a5a"/>
<rect x="324" y="1037" width="0.8" height="0.8" fill="#5a5a5a"/>
<rect x="325.75" y="1037" width="0.8" height="0.8" fill="#5a5a5a"/>
<rect x="327.5" y="1037" width="0.8" height="0.8" fill="#5a5a5a"/>
<rect x="336" y="1063" width="0.8" height="0.8" fill="#5a5a5a"/>
<rect x="337.75" y="1063" width="0.8" height="0.8" fill="#5a5a5a"/>
<rect x="339.5" y="1063" width="0.8" height="0.8" fill="#5a5a5a"/>
<rect x="303" y="1071" width="0.8" height="0.8" fill="#5a5a5a"/>
<rect x="304.75" y="1071" width="0.8" height="0.8" fill="#5a5a5a"/>
<rect x="306.5" y="1071" width="0.8" height="0.8" fill="#5a5a5a"/>
<rect x="384" y="1071.5" width="0.8" height="0.8" fill="#5a5a5a"/>
<rect x="385.75" y="1071.5" width="0.8" height="0.8" fill="#5a5a5a"/>
<rect x="387.5" y="1071.5" width="0.8" height="0.8" fill="#5a5a5a"/>
</g>
<g class="cw">
<path d="M265.81,963.07 L237.4,925.4 L241.38,921.9 L269.79,959.57"/>
<path d="M273.62,956.2 L245.21,918.54 L249.19,915.04 L277.61,952.7"/>
<path d="M281.44,949.34 L253.02,911.67 L257,908.17 L285.42,945.84"/>
<path d="M289.25,942.47 L260.83,904.81 L264.81,901.31 L293.23,938.98"/>
<path d="M297.06,935.61 L268.64,897.94 L272.62,894.45 L301.04,932.11"/>
<path d="M304.87,928.75 L276.45,891.08 L280.43,887.58 L308.85,925.25"/>
<path d="M265.4,964.6 L313.4,922 L312.4,920.88 L264.4,963.48Z"/>
<path d="M282.5,983 L330.8,940.1 L329.8,938.98 L281.5,981.88Z"/>
<path d="M30,989.5 L30,943 L35.5,943 L35.5,989.5"/>
<path d="M40.28,989.5 L40.28,943 L45.78,943 L45.78,989.5"/>
<path d="M50.56,989.5 L50.56,943 L56.06,943 L56.06,989.5"/>
<path d="M60.84,989.5 L60.84,943 L66.34,943 L66.34,989.5"/>
<path d="M71.12,989.5 L71.12,943 L76.62,943 L76.62,989.5"/>
<path d="M81.4,989.5 L81.4,943 L86.9,943 L86.9,989.5"/>
<path d="M91.68,989.5 L91.68,943 L97.18,943 L97.18,989.5"/>
<path d="M101.96,989.5 L101.96,943 L107.46,943 L107.46,989.5"/>
<path d="M112.24,989.5 L112.24,943 L117.74,943 L117.74,989.5"/>
<path d="M122.52,989.5 L122.52,943 L128.02,943 L128.02,989.5"/>
<path d="M22.5,989.5 L130.5,989.5 L130.5,991.2 L22.5,991.2Z"/>
<path d="M23.2,1013.8 L130.5,1013.8 L130.5,1015.7 L23.2,1015.7Z"/>
<path d="M241.6,1095.3 L286.7,1095.3 L286.7,1100.5 L241.6,1100.5Z"/>
<path d="M241.6,1105.55 L286.7,1105.55 L286.7,1110.75 L241.6,1110.75Z"/>
<path d="M241.6,1115.8 L286.7,1115.8 L286.7,1121 L241.6,1121Z"/>
<path d="M241.6,1126.05 L286.7,1126.05 L286.7,1131.25 L241.6,1131.25Z"/>
<path d="M241.6,1136.3 L286.7,1136.3 L286.7,1141.5 L241.6,1141.5Z"/>
<path d="M241.6,1146.55 L286.7,1146.55 L286.7,1151.75 L241.6,1151.75Z"/>
<path d="M241.6,1156.8 L286.7,1156.8 L286.7,1162 L241.6,1162Z"/>
<path d="M241.6,1167.05 L286.7,1167.05 L286.7,1172.25 L241.6,1172.25Z"/>
<path d="M241.6,1177.3 L286.7,1177.3 L286.7,1182.5 L241.6,1182.5Z"/>
<path d="M241.6,1187.55 L286.7,1187.55 L286.7,1192.75 L241.6,1192.75Z"/>
<path d="M238.8,1199 L238.8,1092.8 L240.8,1092.8 L240.8,1199"/>
<path d="M214.3,1199 L214.3,1092.8 L215.8,1092.8 L215.8,1199"/>
</g>
<rect x="68.4" y="974.2" width="0.9" height="0.9" fill="#555"/>
<rect x="254.6" y="1153.8" width="0.9" height="0.9" fill="#222"/>
<g transform="translate(230 863.9) rotate(-31.5)" fill="none" stroke="#111">
<rect x="-10.7" y="-21.3" width="21.4" height="42.6" rx="3.8" stroke-width="1"/>
<rect x="-8.5" y="-19.1" width="17" height="38.2" rx="2.4" stroke-width="0.75"/>
<path d="M-2.1,-13 L2.9,-13 L2.9,7.2 L7,7.2 L0.2,13.4 L-6.6,7.2 L-2.1,7.2Z" stroke-width="0.8"/>
<path d="M-4.4,8.6 L0.2,12.2 L4.8,8.6" stroke-width="0.5"/>
</g>
<path class="red" d="M239.5,113 L465.5,116.5 L464.5,476.25 L1041.75,479.5 L1057.5,506.75 L1073.75,570 L1072.5,662.5 L1068,932 L1005,932 L937,932.5 L753.75,932.5 L652.5,932 L649.88,927 L646.22,920.01 L641.84,911.66 L637.08,902.56 L632.24,893.35 L627.65,884.64 L623.63,877.07 L620.5,871.25 L618.52,867.54 L617.5,865.5 L617.08,864.56 L616.89,864.14 L616.58,863.67 L615.77,862.58 L614.12,860.3 L611.25,856.25 L607.19,850.37 L602.28,843.19 L596.66,834.99 L590.48,826.08 L583.89,816.75 L577.01,807.31 L570,798.04 L563,789.25 L556.01,780.8 L548.91,772.33 L541.62,763.86 L534.07,755.36 L526.21,746.83 L517.95,738.26 L509.24,729.66 L500,721 L489.98,712.07 L479.12,702.79 L467.68,693.35 L455.92,683.93 L444.08,674.72 L432.41,665.92 L421.17,657.72 L410.6,650.3 L400.88,643.79 L391.84,638.05 L383.23,632.9 L374.79,628.16 L366.28,623.65 L357.42,619.17 L347.98,614.55 L337.7,609.6 L325.84,604.12 L312.32,598.19 L297.89,592.06 L283.29,586.01 L269.26,580.27 L256.54,575.1 L245.87,570.76 L238,567.5 L238.25,483.75 L238.5,397.5 L238.5,330.75 L239,289.25 L239.3,246.5Z"/>
<g class="rdot">
<circle cx="239.5" cy="113" r="1.3"/>
<circle cx="465.5" cy="116.5" r="1.3"/>
<circle cx="464.5" cy="476.25" r="1.3"/>
<circle cx="1041.75" cy="479.5" r="1.3"/>
<circle cx="1057.5" cy="506.75" r="1.3"/>
<circle cx="1073.75" cy="570" r="1.3"/>
<circle cx="1072.5" cy="662.5" r="1.3"/>
<circle cx="1068" cy="932" r="1.3"/>
<circle cx="1005" cy="932" r="1.3"/>
<circle cx="937" cy="932.5" r="1.3"/>
<circle cx="753.75" cy="932.5" r="1.3"/>
<circle cx="652.5" cy="932" r="1.3"/>
<circle cx="620.5" cy="871.25" r="1.3"/>
<circle cx="611.25" cy="856.25" r="1.3"/>
<circle cx="563" cy="789.25" r="1.3"/>
<circle cx="500" cy="721" r="1.3"/>
<circle cx="410.6" cy="650.3" r="1.3"/>
<circle cx="337.7" cy="609.6" r="1.3"/>
<circle cx="238" cy="567.5" r="1.3"/>
<circle cx="238.25" cy="483.75" r="1.3"/>
<circle cx="238.5" cy="397.5" r="1.3"/>
<circle cx="238.5" cy="330.75" r="1.3"/>
<circle cx="239" cy="289.25" r="1.3"/>
<circle cx="239.3" cy="246.5" r="1.3"/>
</g>
</svg>
</body></html>
